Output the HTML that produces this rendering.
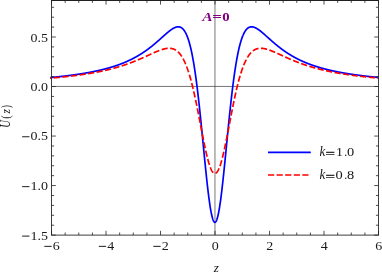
<!DOCTYPE html>
<html><head><meta charset="utf-8"><style>
html,body{margin:0;padding:0;background:#fff;}
svg{display:block;font-family:"Liberation Serif",serif;will-change:transform;}
</style></head><body>
<svg width="382" height="273" viewBox="0 0 382 273">
<rect width="382" height="273" fill="#fff"/>
<defs><clipPath id="c"><rect x="49.53" y="0.30" width="329.60" height="234.80"/></clipPath></defs>
<line x1="214.95" y1="0.30" x2="214.95" y2="235.10" stroke="#8e8e8e" stroke-width="1.2"/>
<line x1="51.53" y1="86.45" x2="378.53" y2="86.45" stroke="#3a3a3a" stroke-width="0.7"/>
<g clip-path="url(#c)" fill="none" stroke-linejoin="round">
<path d="M50.10 77.58 L50.23 77.57 L50.37 77.55 L50.51 77.54 L50.65 77.53 L50.78 77.51 L50.92 77.50 L51.06 77.49 L51.19 77.48 L51.33 77.46 L51.47 77.45 L51.60 77.44 L51.74 77.43 L51.88 77.41 L52.01 77.40 L52.15 77.39 L52.29 77.37 L52.43 77.36 L52.56 77.35 L52.70 77.33 L52.84 77.32 L52.97 77.31 L53.11 77.29 L53.25 77.28 L53.38 77.27 L53.52 77.26 L53.66 77.24 L53.79 77.23 L53.93 77.22 L54.07 77.20 L54.21 77.19 L54.34 77.18 L54.48 77.16 L54.62 77.15 L54.75 77.13 L54.89 77.12 L55.03 77.11 L55.16 77.09 L55.30 77.08 L55.44 77.07 L55.57 77.05 L55.71 77.04 L55.85 77.03 L55.98 77.01 L56.12 77.00 L56.26 76.98 L56.40 76.97 L56.53 76.96 L56.67 76.94 L56.81 76.93 L56.94 76.91 L57.08 76.90 L57.22 76.89 L57.35 76.87 L57.49 76.86 L57.63 76.84 L57.76 76.83 L57.90 76.81 L58.04 76.80 L58.18 76.79 L58.31 76.77 L58.45 76.76 L58.59 76.74 L58.72 76.73 L58.86 76.71 L59.00 76.70 L59.13 76.68 L59.27 76.67 L59.41 76.66 L59.54 76.64 L59.68 76.63 L59.82 76.61 L59.96 76.60 L60.09 76.58 L60.23 76.57 L60.37 76.55 L60.50 76.54 L60.64 76.52 L60.78 76.51 L60.91 76.49 L61.05 76.48 L61.19 76.46 L61.32 76.45 L61.46 76.43 L61.60 76.42 L61.73 76.40 L61.87 76.39 L62.01 76.37 L62.15 76.36 L62.28 76.34 L62.42 76.32 L62.56 76.31 L62.69 76.29 L62.83 76.28 L62.97 76.26 L63.10 76.25 L63.24 76.23 L63.38 76.22 L63.51 76.20 L63.65 76.18 L63.79 76.17 L63.93 76.15 L64.06 76.14 L64.20 76.12 L64.34 76.10 L64.47 76.09 L64.61 76.07 L64.75 76.06 L64.88 76.04 L65.02 76.02 L65.16 76.01 L65.29 75.99 L65.43 75.98 L65.57 75.96 L65.71 75.94 L65.84 75.93 L65.98 75.91 L66.12 75.89 L66.25 75.88 L66.39 75.86 L66.53 75.84 L66.66 75.83 L66.80 75.81 L66.94 75.79 L67.07 75.78 L67.21 75.76 L67.35 75.74 L67.48 75.73 L67.62 75.71 L67.76 75.69 L67.90 75.68 L68.03 75.66 L68.17 75.64 L68.31 75.62 L68.44 75.61 L68.58 75.59 L68.72 75.57 L68.85 75.56 L68.99 75.54 L69.13 75.52 L69.26 75.50 L69.40 75.49 L69.54 75.47 L69.68 75.45 L69.81 75.43 L69.95 75.42 L70.09 75.40 L70.22 75.38 L70.36 75.36 L70.50 75.35 L70.63 75.33 L70.77 75.31 L70.91 75.29 L71.04 75.27 L71.18 75.26 L71.32 75.24 L71.45 75.22 L71.59 75.20 L71.73 75.18 L71.87 75.16 L72.00 75.15 L72.14 75.13 L72.28 75.11 L72.41 75.09 L72.55 75.07 L72.69 75.05 L72.82 75.04 L72.96 75.02 L73.10 75.00 L73.23 74.98 L73.37 74.96 L73.51 74.94 L73.65 74.92 L73.78 74.90 L73.92 74.89 L74.06 74.87 L74.19 74.85 L74.33 74.83 L74.47 74.81 L74.60 74.79 L74.74 74.77 L74.88 74.75 L75.01 74.73 L75.15 74.71 L75.29 74.69 L75.43 74.67 L75.56 74.65 L75.70 74.63 L75.84 74.61 L75.97 74.60 L76.11 74.58 L76.25 74.56 L76.38 74.54 L76.52 74.52 L76.66 74.50 L76.79 74.48 L76.93 74.46 L77.07 74.44 L77.20 74.42 L77.34 74.40 L77.48 74.38 L77.62 74.35 L77.75 74.33 L77.89 74.31 L78.03 74.29 L78.16 74.27 L78.30 74.25 L78.44 74.23 L78.57 74.21 L78.71 74.19 L78.85 74.17 L78.98 74.15 L79.12 74.13 L79.26 74.11 L79.40 74.09 L79.53 74.07 L79.67 74.04 L79.81 74.02 L79.94 74.00 L80.08 73.98 L80.22 73.96 L80.35 73.94 L80.49 73.92 L80.63 73.89 L80.76 73.87 L80.90 73.85 L81.04 73.83 L81.18 73.81 L81.31 73.79 L81.45 73.76 L81.59 73.74 L81.72 73.72 L81.86 73.70 L82.00 73.68 L82.13 73.65 L82.27 73.63 L82.41 73.61 L82.54 73.59 L82.68 73.57 L82.82 73.54 L82.95 73.52 L83.09 73.50 L83.23 73.47 L83.37 73.45 L83.50 73.43 L83.64 73.41 L83.78 73.38 L83.91 73.36 L84.05 73.34 L84.19 73.31 L84.32 73.29 L84.46 73.27 L84.60 73.25 L84.73 73.22 L84.87 73.20 L85.01 73.18 L85.15 73.15 L85.28 73.13 L85.42 73.10 L85.56 73.08 L85.69 73.06 L85.83 73.03 L85.97 73.01 L86.10 72.99 L86.24 72.96 L86.38 72.94 L86.51 72.91 L86.65 72.89 L86.79 72.87 L86.93 72.84 L87.06 72.82 L87.20 72.79 L87.34 72.77 L87.47 72.74 L87.61 72.72 L87.75 72.69 L87.88 72.67 L88.02 72.64 L88.16 72.62 L88.29 72.59 L88.43 72.57 L88.57 72.54 L88.70 72.52 L88.84 72.49 L88.98 72.47 L89.12 72.44 L89.25 72.42 L89.39 72.39 L89.53 72.37 L89.66 72.34 L89.80 72.31 L89.94 72.29 L90.07 72.26 L90.21 72.24 L90.35 72.21 L90.48 72.18 L90.62 72.16 L90.76 72.13 L90.90 72.11 L91.03 72.08 L91.17 72.05 L91.31 72.03 L91.44 72.00 L91.58 71.97 L91.72 71.95 L91.85 71.92 L91.99 71.89 L92.13 71.87 L92.26 71.84 L92.40 71.81 L92.54 71.78 L92.68 71.76 L92.81 71.73 L92.95 71.70 L93.09 71.67 L93.22 71.65 L93.36 71.62 L93.50 71.59 L93.63 71.56 L93.77 71.53 L93.91 71.51 L94.04 71.48 L94.18 71.45 L94.32 71.42 L94.45 71.39 L94.59 71.37 L94.73 71.34 L94.87 71.31 L95.00 71.28 L95.14 71.25 L95.28 71.22 L95.41 71.19 L95.55 71.16 L95.69 71.14 L95.82 71.11 L95.96 71.08 L96.10 71.05 L96.23 71.02 L96.37 70.99 L96.51 70.96 L96.65 70.93 L96.78 70.90 L96.92 70.87 L97.06 70.84 L97.19 70.81 L97.33 70.78 L97.47 70.75 L97.60 70.72 L97.74 70.69 L97.88 70.66 L98.01 70.63 L98.15 70.60 L98.29 70.57 L98.43 70.53 L98.56 70.50 L98.70 70.47 L98.84 70.44 L98.97 70.41 L99.11 70.38 L99.25 70.35 L99.38 70.32 L99.52 70.28 L99.66 70.25 L99.79 70.22 L99.93 70.19 L100.07 70.16 L100.20 70.13 L100.34 70.09 L100.48 70.06 L100.62 70.03 L100.75 70.00 L100.89 69.96 L101.03 69.93 L101.16 69.90 L101.30 69.87 L101.44 69.83 L101.57 69.80 L101.71 69.77 L101.85 69.73 L101.98 69.70 L102.12 69.67 L102.26 69.63 L102.40 69.60 L102.53 69.57 L102.67 69.53 L102.81 69.50 L102.94 69.46 L103.08 69.43 L103.22 69.40 L103.35 69.36 L103.49 69.33 L103.63 69.29 L103.76 69.26 L103.90 69.22 L104.04 69.19 L104.17 69.15 L104.31 69.12 L104.45 69.08 L104.59 69.05 L104.72 69.01 L104.86 68.98 L105.00 68.94 L105.13 68.90 L105.27 68.87 L105.41 68.83 L105.54 68.80 L105.68 68.76 L105.82 68.72 L105.95 68.69 L106.09 68.65 L106.23 68.61 L106.37 68.58 L106.50 68.54 L106.64 68.50 L106.78 68.47 L106.91 68.43 L107.05 68.39 L107.19 68.35 L107.32 68.32 L107.46 68.28 L107.60 68.24 L107.73 68.20 L107.87 68.17 L108.01 68.13 L108.15 68.09 L108.28 68.05 L108.42 68.01 L108.56 67.97 L108.69 67.93 L108.83 67.90 L108.97 67.86 L109.10 67.82 L109.24 67.78 L109.38 67.74 L109.51 67.70 L109.65 67.66 L109.79 67.62 L109.92 67.58 L110.06 67.54 L110.20 67.50 L110.34 67.46 L110.47 67.42 L110.61 67.38 L110.75 67.34 L110.88 67.30 L111.02 67.26 L111.16 67.21 L111.29 67.17 L111.43 67.13 L111.57 67.09 L111.70 67.05 L111.84 67.01 L111.98 66.96 L112.12 66.92 L112.25 66.88 L112.39 66.84 L112.53 66.80 L112.66 66.75 L112.80 66.71 L112.94 66.67 L113.07 66.62 L113.21 66.58 L113.35 66.54 L113.48 66.49 L113.62 66.45 L113.76 66.41 L113.90 66.36 L114.03 66.32 L114.17 66.28 L114.31 66.23 L114.44 66.19 L114.58 66.14 L114.72 66.10 L114.85 66.05 L114.99 66.01 L115.13 65.96 L115.26 65.92 L115.40 65.87 L115.54 65.83 L115.67 65.78 L115.81 65.73 L115.95 65.69 L116.09 65.64 L116.22 65.60 L116.36 65.55 L116.50 65.50 L116.63 65.46 L116.77 65.41 L116.91 65.36 L117.04 65.31 L117.18 65.27 L117.32 65.22 L117.45 65.17 L117.59 65.12 L117.73 65.07 L117.87 65.03 L118.00 64.98 L118.14 64.93 L118.28 64.88 L118.41 64.83 L118.55 64.78 L118.69 64.73 L118.82 64.68 L118.96 64.63 L119.10 64.58 L119.23 64.53 L119.37 64.48 L119.51 64.43 L119.65 64.38 L119.78 64.33 L119.92 64.28 L120.06 64.23 L120.19 64.18 L120.33 64.13 L120.47 64.08 L120.60 64.02 L120.74 63.97 L120.88 63.92 L121.01 63.87 L121.15 63.82 L121.29 63.76 L121.42 63.71 L121.56 63.66 L121.70 63.60 L121.84 63.55 L121.97 63.50 L122.11 63.44 L122.25 63.39 L122.38 63.34 L122.52 63.28 L122.66 63.23 L122.79 63.17 L122.93 63.12 L123.07 63.06 L123.20 63.01 L123.34 62.95 L123.48 62.90 L123.62 62.84 L123.75 62.79 L123.89 62.73 L124.03 62.67 L124.16 62.62 L124.30 62.56 L124.44 62.50 L124.57 62.45 L124.71 62.39 L124.85 62.33 L124.98 62.27 L125.12 62.22 L125.26 62.16 L125.40 62.10 L125.53 62.04 L125.67 61.98 L125.81 61.92 L125.94 61.86 L126.08 61.80 L126.22 61.75 L126.35 61.69 L126.49 61.63 L126.63 61.57 L126.76 61.50 L126.90 61.44 L127.04 61.38 L127.17 61.32 L127.31 61.26 L127.45 61.20 L127.59 61.14 L127.72 61.08 L127.86 61.01 L128.00 60.95 L128.13 60.89 L128.27 60.83 L128.41 60.76 L128.54 60.70 L128.68 60.64 L128.82 60.57 L128.95 60.51 L129.09 60.45 L129.23 60.38 L129.37 60.32 L129.50 60.25 L129.64 60.19 L129.78 60.12 L129.91 60.06 L130.05 59.99 L130.19 59.93 L130.32 59.86 L130.46 59.79 L130.60 59.73 L130.73 59.66 L130.87 59.59 L131.01 59.53 L131.14 59.46 L131.28 59.39 L131.42 59.32 L131.56 59.25 L131.69 59.19 L131.83 59.12 L131.97 59.05 L132.10 58.98 L132.24 58.91 L132.38 58.84 L132.51 58.77 L132.65 58.70 L132.79 58.63 L132.92 58.56 L133.06 58.49 L133.20 58.42 L133.34 58.35 L133.47 58.27 L133.61 58.20 L133.75 58.13 L133.88 58.06 L134.02 57.99 L134.16 57.91 L134.29 57.84 L134.43 57.77 L134.57 57.69 L134.70 57.62 L134.84 57.55 L134.98 57.47 L135.12 57.40 L135.25 57.32 L135.39 57.25 L135.53 57.17 L135.66 57.10 L135.80 57.02 L135.94 56.94 L136.07 56.87 L136.21 56.79 L136.35 56.71 L136.48 56.64 L136.62 56.56 L136.76 56.48 L136.89 56.40 L137.03 56.32 L137.17 56.25 L137.31 56.17 L137.44 56.09 L137.58 56.01 L137.72 55.93 L137.85 55.85 L137.99 55.77 L138.13 55.69 L138.26 55.61 L138.40 55.53 L138.54 55.45 L138.67 55.36 L138.81 55.28 L138.95 55.20 L139.09 55.12 L139.22 55.04 L139.36 54.95 L139.50 54.87 L139.63 54.79 L139.77 54.70 L139.91 54.62 L140.04 54.53 L140.18 54.45 L140.32 54.36 L140.45 54.28 L140.59 54.19 L140.73 54.11 L140.87 54.02 L141.00 53.94 L141.14 53.85 L141.28 53.76 L141.41 53.68 L141.55 53.59 L141.69 53.50 L141.82 53.41 L141.96 53.32 L142.10 53.24 L142.23 53.15 L142.37 53.06 L142.51 52.97 L142.64 52.88 L142.78 52.79 L142.92 52.70 L143.06 52.61 L143.19 52.52 L143.33 52.43 L143.47 52.33 L143.60 52.24 L143.74 52.15 L143.88 52.06 L144.01 51.96 L144.15 51.87 L144.29 51.78 L144.42 51.68 L144.56 51.59 L144.70 51.50 L144.84 51.40 L144.97 51.31 L145.11 51.21 L145.25 51.12 L145.38 51.02 L145.52 50.93 L145.66 50.83 L145.79 50.73 L145.93 50.64 L146.07 50.54 L146.20 50.44 L146.34 50.34 L146.48 50.25 L146.62 50.15 L146.75 50.05 L146.89 49.95 L147.03 49.85 L147.16 49.75 L147.30 49.65 L147.44 49.55 L147.57 49.45 L147.71 49.35 L147.85 49.25 L147.98 49.15 L148.12 49.05 L148.26 48.94 L148.39 48.84 L148.53 48.74 L148.67 48.64 L148.81 48.53 L148.94 48.43 L149.08 48.33 L149.22 48.22 L149.35 48.12 L149.49 48.01 L149.63 47.91 L149.76 47.80 L149.90 47.70 L150.04 47.59 L150.17 47.49 L150.31 47.38 L150.45 47.27 L150.59 47.17 L150.72 47.06 L150.86 46.95 L151.00 46.85 L151.13 46.74 L151.27 46.63 L151.41 46.52 L151.54 46.41 L151.68 46.30 L151.82 46.19 L151.95 46.08 L152.09 45.97 L152.23 45.86 L152.37 45.75 L152.50 45.64 L152.64 45.53 L152.78 45.42 L152.91 45.31 L153.05 45.20 L153.19 45.08 L153.32 44.97 L153.46 44.86 L153.60 44.75 L153.73 44.63 L153.87 44.52 L154.01 44.41 L154.14 44.29 L154.28 44.18 L154.42 44.06 L154.56 43.95 L154.69 43.83 L154.83 43.72 L154.97 43.60 L155.10 43.49 L155.24 43.37 L155.38 43.25 L155.51 43.14 L155.65 43.02 L155.79 42.90 L155.92 42.79 L156.06 42.67 L156.20 42.55 L156.34 42.44 L156.47 42.32 L156.61 42.20 L156.75 42.08 L156.88 41.96 L157.02 41.84 L157.16 41.72 L157.29 41.61 L157.43 41.49 L157.57 41.37 L157.70 41.25 L157.84 41.13 L157.98 41.01 L158.12 40.89 L158.25 40.77 L158.39 40.65 L158.53 40.53 L158.66 40.40 L158.80 40.28 L158.94 40.16 L159.07 40.04 L159.21 39.92 L159.35 39.80 L159.48 39.68 L159.62 39.55 L159.76 39.43 L159.89 39.31 L160.03 39.19 L160.17 39.07 L160.31 38.94 L160.44 38.82 L160.58 38.70 L160.72 38.58 L160.85 38.45 L160.99 38.33 L161.13 38.21 L161.26 38.09 L161.40 37.96 L161.54 37.84 L161.67 37.72 L161.81 37.59 L161.95 37.47 L162.09 37.35 L162.22 37.23 L162.36 37.10 L162.50 36.98 L162.63 36.86 L162.77 36.73 L162.91 36.61 L163.04 36.49 L163.18 36.37 L163.32 36.24 L163.45 36.12 L163.59 36.00 L163.73 35.88 L163.86 35.75 L164.00 35.63 L164.14 35.51 L164.28 35.39 L164.41 35.27 L164.55 35.14 L164.69 35.02 L164.82 34.90 L164.96 34.78 L165.10 34.66 L165.23 34.54 L165.37 34.42 L165.51 34.30 L165.64 34.18 L165.78 34.06 L165.92 33.94 L166.06 33.82 L166.19 33.70 L166.33 33.58 L166.47 33.47 L166.60 33.35 L166.74 33.23 L166.88 33.11 L167.01 33.00 L167.15 32.88 L167.29 32.76 L167.42 32.65 L167.56 32.53 L167.70 32.42 L167.84 32.30 L167.97 32.19 L168.11 32.08 L168.25 31.97 L168.38 31.85 L168.52 31.74 L168.66 31.63 L168.79 31.52 L168.93 31.41 L169.07 31.30 L169.20 31.19 L169.34 31.09 L169.48 30.98 L169.61 30.87 L169.75 30.77 L169.89 30.66 L170.03 30.56 L170.16 30.45 L170.30 30.35 L170.44 30.25 L170.57 30.15 L170.71 30.05 L170.85 29.95 L170.98 29.85 L171.12 29.76 L171.26 29.66 L171.39 29.57 L171.53 29.47 L171.67 29.38 L171.81 29.29 L171.94 29.20 L172.08 29.11 L172.22 29.02 L172.35 28.93 L172.49 28.85 L172.63 28.76 L172.76 28.68 L172.90 28.60 L173.04 28.52 L173.17 28.44 L173.31 28.36 L173.45 28.28 L173.59 28.21 L173.72 28.13 L173.86 28.06 L174.00 27.99 L174.13 27.92 L174.27 27.86 L174.41 27.79 L174.54 27.73 L174.68 27.66 L174.82 27.60 L174.95 27.55 L175.09 27.49 L175.23 27.44 L175.36 27.38 L175.50 27.33 L175.64 27.28 L175.78 27.24 L175.91 27.19 L176.05 27.15 L176.19 27.11 L176.32 27.07 L176.46 27.04 L176.60 27.01 L176.73 26.98 L176.87 26.95 L177.01 26.92 L177.14 26.90 L177.28 26.88 L177.42 26.86 L177.56 26.84 L177.69 26.83 L177.83 26.82 L177.97 26.82 L178.10 26.81 L178.24 26.81 L178.38 26.81 L178.51 26.82 L178.65 26.82 L178.79 26.84 L178.92 26.85 L179.06 26.87 L179.20 26.89 L179.34 26.91 L179.47 26.94 L179.61 26.97 L179.75 27.01 L179.88 27.04 L180.02 27.09 L180.16 27.13 L180.29 27.18 L180.43 27.24 L180.57 27.29 L180.70 27.35 L180.84 27.42 L180.98 27.49 L181.11 27.56 L181.25 27.64 L181.39 27.72 L181.53 27.81 L181.66 27.90 L181.80 28.00 L181.94 28.10 L182.07 28.21 L182.21 28.32 L182.35 28.43 L182.48 28.55 L182.62 28.68 L182.76 28.81 L182.89 28.94 L183.03 29.08 L183.17 29.23 L183.31 29.38 L183.44 29.53 L183.58 29.70 L183.72 29.86 L183.85 30.04 L183.99 30.22 L184.13 30.40 L184.26 30.59 L184.40 30.79 L184.54 30.99 L184.67 31.20 L184.81 31.42 L184.95 31.64 L185.09 31.87 L185.22 32.11 L185.36 32.35 L185.50 32.60 L185.63 32.85 L185.77 33.12 L185.91 33.39 L186.04 33.66 L186.18 33.95 L186.32 34.24 L186.45 34.54 L186.59 34.84 L186.73 35.16 L186.86 35.48 L187.00 35.81 L187.14 36.14 L187.28 36.49 L187.41 36.84 L187.55 37.20 L187.69 37.57 L187.82 37.95 L187.96 38.34 L188.10 38.73 L188.23 39.14 L188.37 39.55 L188.51 39.97 L188.64 40.40 L188.78 40.84 L188.92 41.28 L189.06 41.74 L189.19 42.21 L189.33 42.68 L189.47 43.17 L189.60 43.66 L189.74 44.16 L189.88 44.68 L190.01 45.20 L190.15 45.73 L190.29 46.27 L190.42 46.83 L190.56 47.39 L190.70 47.96 L190.84 48.55 L190.97 49.14 L191.11 49.74 L191.25 50.36 L191.38 50.98 L191.52 51.62 L191.66 52.26 L191.79 52.92 L191.93 53.59 L192.07 54.27 L192.20 54.96 L192.34 55.66 L192.48 56.37 L192.61 57.09 L192.75 57.82 L192.89 58.57 L193.03 59.33 L193.16 60.09 L193.30 60.87 L193.44 61.66 L193.57 62.46 L193.71 63.28 L193.85 64.10 L193.98 64.94 L194.12 65.78 L194.26 66.64 L194.39 67.51 L194.53 68.39 L194.67 69.29 L194.81 70.19 L194.94 71.11 L195.08 72.04 L195.22 72.98 L195.35 73.93 L195.49 74.89 L195.63 75.86 L195.76 76.85 L195.90 77.85 L196.04 78.86 L196.17 79.88 L196.31 80.91 L196.45 81.95 L196.58 83.00 L196.72 84.07 L196.86 85.14 L197.00 86.23 L197.13 87.33 L197.27 88.43 L197.41 89.55 L197.54 90.68 L197.68 91.82 L197.82 92.97 L197.95 94.13 L198.09 95.30 L198.23 96.48 L198.36 97.67 L198.50 98.88 L198.64 100.09 L198.78 101.30 L198.91 102.53 L199.05 103.77 L199.19 105.02 L199.32 106.27 L199.46 107.54 L199.60 108.81 L199.73 110.09 L199.87 111.38 L200.01 112.67 L200.14 113.98 L200.28 115.29 L200.42 116.61 L200.56 117.93 L200.69 119.26 L200.83 120.60 L200.97 121.94 L201.10 123.29 L201.24 124.65 L201.38 126.01 L201.51 127.37 L201.65 128.74 L201.79 130.11 L201.92 131.49 L202.06 132.87 L202.20 134.26 L202.33 135.64 L202.47 137.03 L202.61 138.42 L202.75 139.82 L202.88 141.21 L203.02 142.61 L203.16 144.01 L203.29 145.40 L203.43 146.80 L203.57 148.20 L203.70 149.60 L203.84 150.99 L203.98 152.39 L204.11 153.78 L204.25 155.17 L204.39 156.55 L204.53 157.94 L204.66 159.32 L204.80 160.69 L204.94 162.07 L205.07 163.43 L205.21 164.79 L205.35 166.15 L205.48 167.50 L205.62 168.84 L205.76 170.18 L205.89 171.51 L206.03 172.83 L206.17 174.14 L206.31 175.44 L206.44 176.74 L206.58 178.02 L206.72 179.30 L206.85 180.56 L206.99 181.81 L207.13 183.05 L207.26 184.28 L207.40 185.50 L207.54 186.70 L207.67 187.89 L207.81 189.07 L207.95 190.23 L208.08 191.38 L208.22 192.51 L208.36 193.63 L208.50 194.73 L208.63 195.82 L208.77 196.88 L208.91 197.94 L209.04 198.97 L209.18 199.99 L209.32 200.98 L209.45 201.96 L209.59 202.92 L209.73 203.87 L209.86 204.79 L210.00 205.69 L210.14 206.57 L210.28 207.43 L210.41 208.27 L210.55 209.08 L210.69 209.88 L210.82 210.65 L210.96 211.40 L211.10 212.13 L211.23 212.83 L211.37 213.52 L211.51 214.17 L211.64 214.81 L211.78 215.42 L211.92 216.00 L212.06 216.56 L212.19 217.10 L212.33 217.61 L212.47 218.10 L212.60 218.56 L212.74 218.99 L212.88 219.40 L213.01 219.78 L213.15 220.14 L213.29 220.47 L213.42 220.77 L213.56 221.05 L213.70 221.30 L213.83 221.53 L213.97 221.72 L214.11 221.89 L214.25 222.04 L214.38 222.15 L214.52 222.24 L214.66 222.31 L214.79 222.34 L214.93 222.35 L215.07 222.33 L215.20 222.28 L215.34 222.21 L215.48 222.11 L215.61 221.98 L215.75 221.82 L215.89 221.64 L216.03 221.43 L216.16 221.20 L216.30 220.93 L216.44 220.64 L216.57 220.33 L216.71 219.99 L216.85 219.62 L216.98 219.22 L217.12 218.80 L217.26 218.36 L217.39 217.89 L217.53 217.39 L217.67 216.87 L217.81 216.32 L217.94 215.75 L218.08 215.15 L218.22 214.53 L218.35 213.89 L218.49 213.22 L218.63 212.53 L218.76 211.81 L218.90 211.08 L219.04 210.31 L219.17 209.53 L219.31 208.73 L219.45 207.90 L219.58 207.05 L219.72 206.18 L219.86 205.29 L220.00 204.38 L220.13 203.45 L220.27 202.51 L220.41 201.54 L220.54 200.55 L220.68 199.54 L220.82 198.52 L220.95 197.48 L221.09 196.42 L221.23 195.34 L221.36 194.25 L221.50 193.14 L221.64 192.02 L221.78 190.88 L221.91 189.72 L222.05 188.55 L222.19 187.37 L222.32 186.17 L222.46 184.97 L222.60 183.74 L222.73 182.51 L222.87 181.26 L223.01 180.01 L223.14 178.74 L223.28 177.46 L223.42 176.17 L223.55 174.87 L223.69 173.57 L223.83 172.25 L223.97 170.93 L224.10 169.59 L224.24 168.25 L224.38 166.91 L224.51 165.56 L224.65 164.20 L224.79 162.83 L224.92 161.46 L225.06 160.09 L225.20 158.71 L225.33 157.33 L225.47 155.95 L225.61 154.56 L225.75 153.17 L225.88 151.77 L226.02 150.38 L226.16 148.98 L226.29 147.59 L226.43 146.19 L226.57 144.79 L226.70 143.39 L226.84 142.00 L226.98 140.60 L227.11 139.21 L227.25 137.81 L227.39 136.42 L227.53 135.03 L227.66 133.65 L227.80 132.26 L227.94 130.89 L228.07 129.51 L228.21 128.14 L228.35 126.77 L228.48 125.41 L228.62 124.05 L228.76 122.70 L228.89 121.35 L229.03 120.01 L229.17 118.68 L229.30 117.35 L229.44 116.03 L229.58 114.71 L229.72 113.40 L229.85 112.10 L229.99 110.81 L230.13 109.53 L230.26 108.25 L230.40 106.98 L230.54 105.72 L230.67 104.47 L230.81 103.23 L230.95 101.99 L231.08 100.77 L231.22 99.55 L231.36 98.35 L231.50 97.15 L231.63 95.96 L231.77 94.79 L231.91 93.62 L232.04 92.47 L232.18 91.32 L232.32 90.18 L232.45 89.06 L232.59 87.95 L232.73 86.84 L232.86 85.75 L233.00 84.67 L233.14 83.60 L233.28 82.54 L233.41 81.49 L233.55 80.45 L233.69 79.43 L233.82 78.41 L233.96 77.41 L234.10 76.42 L234.23 75.44 L234.37 74.47 L234.51 73.51 L234.64 72.56 L234.78 71.63 L234.92 70.71 L235.05 69.79 L235.19 68.89 L235.33 68.01 L235.47 67.13 L235.60 66.26 L235.74 65.41 L235.88 64.57 L236.01 63.74 L236.15 62.92 L236.29 62.11 L236.42 61.31 L236.56 60.53 L236.70 59.75 L236.83 58.99 L236.97 58.24 L237.11 57.50 L237.25 56.77 L237.38 56.05 L237.52 55.35 L237.66 54.65 L237.79 53.97 L237.93 53.29 L238.07 52.63 L238.20 51.98 L238.34 51.34 L238.48 50.71 L238.61 50.09 L238.75 49.48 L238.89 48.88 L239.03 48.29 L239.16 47.71 L239.30 47.14 L239.44 46.58 L239.57 46.04 L239.71 45.50 L239.85 44.97 L239.98 44.45 L240.12 43.94 L240.26 43.44 L240.39 42.95 L240.53 42.47 L240.67 42.00 L240.80 41.54 L240.94 41.09 L241.08 40.64 L241.22 40.21 L241.35 39.78 L241.49 39.37 L241.63 38.96 L241.76 38.56 L241.90 38.17 L242.04 37.78 L242.17 37.41 L242.31 37.04 L242.45 36.69 L242.58 36.34 L242.72 36.00 L242.86 35.66 L243.00 35.34 L243.13 35.02 L243.27 34.71 L243.41 34.41 L243.54 34.11 L243.68 33.82 L243.82 33.54 L243.95 33.27 L244.09 33.00 L244.23 32.74 L244.36 32.49 L244.50 32.24 L244.64 32.00 L244.78 31.77 L244.91 31.54 L245.05 31.32 L245.19 31.11 L245.32 30.90 L245.46 30.70 L245.60 30.51 L245.73 30.32 L245.87 30.14 L246.01 29.96 L246.14 29.79 L246.28 29.62 L246.42 29.46 L246.55 29.31 L246.69 29.16 L246.83 29.02 L246.97 28.88 L247.10 28.75 L247.24 28.62 L247.38 28.50 L247.51 28.38 L247.65 28.27 L247.79 28.16 L247.92 28.06 L248.06 27.96 L248.20 27.86 L248.33 27.77 L248.47 27.69 L248.61 27.61 L248.75 27.53 L248.88 27.46 L249.02 27.39 L249.16 27.33 L249.29 27.27 L249.43 27.21 L249.57 27.16 L249.70 27.11 L249.84 27.07 L249.98 27.03 L250.11 26.99 L250.25 26.96 L250.39 26.93 L250.53 26.90 L250.66 26.88 L250.80 26.86 L250.94 26.84 L251.07 26.83 L251.21 26.82 L251.35 26.81 L251.48 26.81 L251.62 26.81 L251.76 26.81 L251.89 26.82 L252.03 26.83 L252.17 26.84 L252.30 26.85 L252.44 26.87 L252.58 26.89 L252.72 26.91 L252.85 26.93 L252.99 26.96 L253.13 26.99 L253.26 27.02 L253.40 27.05 L253.54 27.09 L253.67 27.13 L253.81 27.17 L253.95 27.21 L254.08 27.26 L254.22 27.31 L254.36 27.35 L254.50 27.41 L254.63 27.46 L254.77 27.51 L254.91 27.57 L255.04 27.63 L255.18 27.69 L255.32 27.75 L255.45 27.82 L255.59 27.88 L255.73 27.95 L255.86 28.02 L256.00 28.09 L256.14 28.17 L256.27 28.24 L256.41 28.31 L256.55 28.39 L256.69 28.47 L256.82 28.55 L256.96 28.63 L257.10 28.71 L257.23 28.80 L257.37 28.88 L257.51 28.97 L257.64 29.06 L257.78 29.15 L257.92 29.24 L258.05 29.33 L258.19 29.42 L258.33 29.51 L258.47 29.61 L258.60 29.70 L258.74 29.80 L258.88 29.90 L259.01 29.99 L259.15 30.09 L259.29 30.19 L259.42 30.30 L259.56 30.40 L259.70 30.50 L259.83 30.60 L259.97 30.71 L260.11 30.81 L260.25 30.92 L260.38 31.03 L260.52 31.13 L260.66 31.24 L260.79 31.35 L260.93 31.46 L261.07 31.57 L261.20 31.68 L261.34 31.79 L261.48 31.90 L261.61 32.01 L261.75 32.13 L261.89 32.24 L262.02 32.35 L262.16 32.47 L262.30 32.58 L262.44 32.70 L262.57 32.81 L262.71 32.93 L262.85 33.05 L262.98 33.16 L263.12 33.28 L263.26 33.40 L263.39 33.52 L263.53 33.64 L263.67 33.75 L263.80 33.87 L263.94 33.99 L264.08 34.11 L264.22 34.23 L264.35 34.35 L264.49 34.47 L264.63 34.59 L264.76 34.71 L264.90 34.83 L265.04 34.96 L265.17 35.08 L265.31 35.20 L265.45 35.32 L265.58 35.44 L265.72 35.56 L265.86 35.69 L266.00 35.81 L266.13 35.93 L266.27 36.05 L266.41 36.18 L266.54 36.30 L266.68 36.42 L266.82 36.54 L266.95 36.67 L267.09 36.79 L267.23 36.91 L267.36 37.03 L267.50 37.16 L267.64 37.28 L267.77 37.40 L267.91 37.53 L268.05 37.65 L268.19 37.77 L268.32 37.89 L268.46 38.02 L268.60 38.14 L268.73 38.26 L268.87 38.39 L269.01 38.51 L269.14 38.63 L269.28 38.75 L269.42 38.88 L269.55 39.00 L269.69 39.12 L269.83 39.24 L269.97 39.36 L270.10 39.49 L270.24 39.61 L270.38 39.73 L270.51 39.85 L270.65 39.97 L270.79 40.09 L270.92 40.22 L271.06 40.34 L271.20 40.46 L271.33 40.58 L271.47 40.70 L271.61 40.82 L271.75 40.94 L271.88 41.06 L272.02 41.18 L272.16 41.30 L272.29 41.42 L272.43 41.54 L272.57 41.66 L272.70 41.78 L272.84 41.90 L272.98 42.01 L273.11 42.13 L273.25 42.25 L273.39 42.37 L273.52 42.49 L273.66 42.60 L273.80 42.72 L273.94 42.84 L274.07 42.96 L274.21 43.07 L274.35 43.19 L274.48 43.31 L274.62 43.42 L274.76 43.54 L274.89 43.65 L275.03 43.77 L275.17 43.88 L275.30 44.00 L275.44 44.11 L275.58 44.23 L275.72 44.34 L275.85 44.46 L275.99 44.57 L276.13 44.68 L276.26 44.80 L276.40 44.91 L276.54 45.02 L276.67 45.13 L276.81 45.24 L276.95 45.36 L277.08 45.47 L277.22 45.58 L277.36 45.69 L277.50 45.80 L277.63 45.91 L277.77 46.02 L277.91 46.13 L278.04 46.24 L278.18 46.35 L278.32 46.46 L278.45 46.57 L278.59 46.68 L278.73 46.78 L278.86 46.89 L279.00 47.00 L279.14 47.11 L279.27 47.21 L279.41 47.32 L279.55 47.43 L279.69 47.53 L279.82 47.64 L279.96 47.75 L280.10 47.85 L280.23 47.96 L280.37 48.06 L280.51 48.16 L280.64 48.27 L280.78 48.37 L280.92 48.48 L281.05 48.58 L281.19 48.68 L281.33 48.78 L281.47 48.89 L281.60 48.99 L281.74 49.09 L281.88 49.19 L282.01 49.29 L282.15 49.39 L282.29 49.50 L282.42 49.60 L282.56 49.70 L282.70 49.79 L282.83 49.89 L282.97 49.99 L283.11 50.09 L283.25 50.19 L283.38 50.29 L283.52 50.39 L283.66 50.48 L283.79 50.58 L283.93 50.68 L284.07 50.78 L284.20 50.87 L284.34 50.97 L284.48 51.06 L284.61 51.16 L284.75 51.25 L284.89 51.35 L285.02 51.44 L285.16 51.54 L285.30 51.63 L285.44 51.73 L285.57 51.82 L285.71 51.91 L285.85 52.01 L285.98 52.10 L286.12 52.19 L286.26 52.28 L286.39 52.37 L286.53 52.47 L286.67 52.56 L286.80 52.65 L286.94 52.74 L287.08 52.83 L287.22 52.92 L287.35 53.01 L287.49 53.10 L287.63 53.19 L287.76 53.27 L287.90 53.36 L288.04 53.45 L288.17 53.54 L288.31 53.63 L288.45 53.71 L288.58 53.80 L288.72 53.89 L288.86 53.97 L288.99 54.06 L289.13 54.15 L289.27 54.23 L289.41 54.32 L289.54 54.40 L289.68 54.49 L289.82 54.57 L289.95 54.66 L290.09 54.74 L290.23 54.82 L290.36 54.91 L290.50 54.99 L290.64 55.07 L290.77 55.15 L290.91 55.24 L291.05 55.32 L291.19 55.40 L291.32 55.48 L291.46 55.56 L291.60 55.64 L291.73 55.72 L291.87 55.80 L292.01 55.88 L292.14 55.96 L292.28 56.04 L292.42 56.12 L292.55 56.20 L292.69 56.28 L292.83 56.36 L292.97 56.44 L293.10 56.52 L293.24 56.59 L293.38 56.67 L293.51 56.75 L293.65 56.82 L293.79 56.90 L293.92 56.98 L294.06 57.05 L294.20 57.13 L294.33 57.20 L294.47 57.28 L294.61 57.35 L294.74 57.43 L294.88 57.50 L295.02 57.58 L295.16 57.65 L295.29 57.73 L295.43 57.80 L295.57 57.87 L295.70 57.95 L295.84 58.02 L295.98 58.09 L296.11 58.16 L296.25 58.23 L296.39 58.31 L296.52 58.38 L296.66 58.45 L296.80 58.52 L296.94 58.59 L297.07 58.66 L297.21 58.73 L297.35 58.80 L297.48 58.87 L297.62 58.94 L297.76 59.01 L297.89 59.08 L298.03 59.15 L298.17 59.22 L298.30 59.28 L298.44 59.35 L298.58 59.42 L298.72 59.49 L298.85 59.56 L298.99 59.62 L299.13 59.69 L299.26 59.76 L299.40 59.82 L299.54 59.89 L299.67 59.95 L299.81 60.02 L299.95 60.09 L300.08 60.15 L300.22 60.22 L300.36 60.28 L300.49 60.35 L300.63 60.41 L300.77 60.47 L300.91 60.54 L301.04 60.60 L301.18 60.67 L301.32 60.73 L301.45 60.79 L301.59 60.85 L301.73 60.92 L301.86 60.98 L302.00 61.04 L302.14 61.10 L302.27 61.17 L302.41 61.23 L302.55 61.29 L302.69 61.35 L302.82 61.41 L302.96 61.47 L303.10 61.53 L303.23 61.59 L303.37 61.65 L303.51 61.71 L303.64 61.77 L303.78 61.83 L303.92 61.89 L304.05 61.95 L304.19 62.01 L304.33 62.07 L304.47 62.12 L304.60 62.18 L304.74 62.24 L304.88 62.30 L305.01 62.36 L305.15 62.41 L305.29 62.47 L305.42 62.53 L305.56 62.58 L305.70 62.64 L305.83 62.70 L305.97 62.75 L306.11 62.81 L306.24 62.87 L306.38 62.92 L306.52 62.98 L306.66 63.03 L306.79 63.09 L306.93 63.14 L307.07 63.20 L307.20 63.25 L307.34 63.31 L307.48 63.36 L307.61 63.41 L307.75 63.47 L307.89 63.52 L308.02 63.57 L308.16 63.63 L308.30 63.68 L308.44 63.73 L308.57 63.79 L308.71 63.84 L308.85 63.89 L308.98 63.94 L309.12 64.00 L309.26 64.05 L309.39 64.10 L309.53 64.15 L309.67 64.20 L309.80 64.25 L309.94 64.30 L310.08 64.35 L310.22 64.41 L310.35 64.46 L310.49 64.51 L310.63 64.56 L310.76 64.61 L310.90 64.66 L311.04 64.70 L311.17 64.75 L311.31 64.80 L311.45 64.85 L311.58 64.90 L311.72 64.95 L311.86 65.00 L311.99 65.05 L312.13 65.10 L312.27 65.14 L312.41 65.19 L312.54 65.24 L312.68 65.29 L312.82 65.33 L312.95 65.38 L313.09 65.43 L313.23 65.48 L313.36 65.52 L313.50 65.57 L313.64 65.62 L313.77 65.66 L313.91 65.71 L314.05 65.75 L314.19 65.80 L314.32 65.85 L314.46 65.89 L314.60 65.94 L314.73 65.98 L314.87 66.03 L315.01 66.07 L315.14 66.12 L315.28 66.16 L315.42 66.21 L315.55 66.25 L315.69 66.29 L315.83 66.34 L315.96 66.38 L316.10 66.43 L316.24 66.47 L316.38 66.51 L316.51 66.56 L316.65 66.60 L316.79 66.64 L316.92 66.69 L317.06 66.73 L317.20 66.77 L317.33 66.81 L317.47 66.86 L317.61 66.90 L317.74 66.94 L317.88 66.98 L318.02 67.03 L318.16 67.07 L318.29 67.11 L318.43 67.15 L318.57 67.19 L318.70 67.23 L318.84 67.27 L318.98 67.31 L319.11 67.35 L319.25 67.40 L319.39 67.44 L319.52 67.48 L319.66 67.52 L319.80 67.56 L319.94 67.60 L320.07 67.64 L320.21 67.68 L320.35 67.72 L320.48 67.76 L320.62 67.80 L320.76 67.83 L320.89 67.87 L321.03 67.91 L321.17 67.95 L321.30 67.99 L321.44 68.03 L321.58 68.07 L321.71 68.11 L321.85 68.14 L321.99 68.18 L322.13 68.22 L322.26 68.26 L322.40 68.30 L322.54 68.33 L322.67 68.37 L322.81 68.41 L322.95 68.45 L323.08 68.48 L323.22 68.52 L323.36 68.56 L323.49 68.59 L323.63 68.63 L323.77 68.67 L323.91 68.70 L324.04 68.74 L324.18 68.78 L324.32 68.81 L324.45 68.85 L324.59 68.88 L324.73 68.92 L324.86 68.96 L325.00 68.99 L325.14 69.03 L325.27 69.06 L325.41 69.10 L325.55 69.13 L325.69 69.17 L325.82 69.20 L325.96 69.24 L326.10 69.27 L326.23 69.31 L326.37 69.34 L326.51 69.38 L326.64 69.41 L326.78 69.44 L326.92 69.48 L327.05 69.51 L327.19 69.55 L327.33 69.58 L327.46 69.61 L327.60 69.65 L327.74 69.68 L327.88 69.71 L328.01 69.75 L328.15 69.78 L328.29 69.81 L328.42 69.85 L328.56 69.88 L328.70 69.91 L328.83 69.95 L328.97 69.98 L329.11 70.01 L329.24 70.04 L329.38 70.08 L329.52 70.11 L329.66 70.14 L329.79 70.17 L329.93 70.20 L330.07 70.24 L330.20 70.27 L330.34 70.30 L330.48 70.33 L330.61 70.36 L330.75 70.39 L330.89 70.42 L331.02 70.46 L331.16 70.49 L331.30 70.52 L331.44 70.55 L331.57 70.58 L331.71 70.61 L331.85 70.64 L331.98 70.67 L332.12 70.70 L332.26 70.73 L332.39 70.76 L332.53 70.79 L332.67 70.82 L332.80 70.85 L332.94 70.88 L333.08 70.91 L333.21 70.94 L333.35 70.97 L333.49 71.00 L333.63 71.03 L333.76 71.06 L333.90 71.09 L334.04 71.12 L334.17 71.15 L334.31 71.18 L334.45 71.21 L334.58 71.23 L334.72 71.26 L334.86 71.29 L334.99 71.32 L335.13 71.35 L335.27 71.38 L335.41 71.41 L335.54 71.43 L335.68 71.46 L335.82 71.49 L335.95 71.52 L336.09 71.55 L336.23 71.58 L336.36 71.60 L336.50 71.63 L336.64 71.66 L336.77 71.69 L336.91 71.71 L337.05 71.74 L337.19 71.77 L337.32 71.80 L337.46 71.82 L337.60 71.85 L337.73 71.88 L337.87 71.90 L338.01 71.93 L338.14 71.96 L338.28 71.98 L338.42 72.01 L338.55 72.04 L338.69 72.06 L338.83 72.09 L338.96 72.12 L339.10 72.14 L339.24 72.17 L339.38 72.20 L339.51 72.22 L339.65 72.25 L339.79 72.27 L339.92 72.30 L340.06 72.33 L340.20 72.35 L340.33 72.38 L340.47 72.40 L340.61 72.43 L340.74 72.45 L340.88 72.48 L341.02 72.50 L341.16 72.53 L341.29 72.55 L341.43 72.58 L341.57 72.60 L341.70 72.63 L341.84 72.65 L341.98 72.68 L342.11 72.70 L342.25 72.73 L342.39 72.75 L342.52 72.78 L342.66 72.80 L342.80 72.83 L342.94 72.85 L343.07 72.88 L343.21 72.90 L343.35 72.92 L343.48 72.95 L343.62 72.97 L343.76 73.00 L343.89 73.02 L344.03 73.04 L344.17 73.07 L344.30 73.09 L344.44 73.12 L344.58 73.14 L344.71 73.16 L344.85 73.19 L344.99 73.21 L345.13 73.23 L345.26 73.26 L345.40 73.28 L345.54 73.30 L345.67 73.33 L345.81 73.35 L345.95 73.37 L346.08 73.39 L346.22 73.42 L346.36 73.44 L346.49 73.46 L346.63 73.48 L346.77 73.51 L346.91 73.53 L347.04 73.55 L347.18 73.57 L347.32 73.60 L347.45 73.62 L347.59 73.64 L347.73 73.66 L347.86 73.69 L348.00 73.71 L348.14 73.73 L348.27 73.75 L348.41 73.77 L348.55 73.80 L348.68 73.82 L348.82 73.84 L348.96 73.86 L349.10 73.88 L349.23 73.90 L349.37 73.93 L349.51 73.95 L349.64 73.97 L349.78 73.99 L349.92 74.01 L350.05 74.03 L350.19 74.05 L350.33 74.07 L350.46 74.10 L350.60 74.12 L350.74 74.14 L350.88 74.16 L351.01 74.18 L351.15 74.20 L351.29 74.22 L351.42 74.24 L351.56 74.26 L351.70 74.28 L351.83 74.30 L351.97 74.32 L352.11 74.34 L352.24 74.36 L352.38 74.38 L352.52 74.40 L352.66 74.42 L352.79 74.44 L352.93 74.46 L353.07 74.48 L353.20 74.50 L353.34 74.52 L353.48 74.54 L353.61 74.56 L353.75 74.58 L353.89 74.60 L354.02 74.62 L354.16 74.64 L354.30 74.66 L354.43 74.68 L354.57 74.70 L354.71 74.72 L354.85 74.74 L354.98 74.76 L355.12 74.78 L355.26 74.80 L355.39 74.82 L355.53 74.84 L355.67 74.86 L355.80 74.87 L355.94 74.89 L356.08 74.91 L356.21 74.93 L356.35 74.95 L356.49 74.97 L356.63 74.99 L356.76 75.01 L356.90 75.03 L357.04 75.04 L357.17 75.06 L357.31 75.08 L357.45 75.10 L357.58 75.12 L357.72 75.14 L357.86 75.15 L357.99 75.17 L358.13 75.19 L358.27 75.21 L358.41 75.23 L358.54 75.25 L358.68 75.26 L358.82 75.28 L358.95 75.30 L359.09 75.32 L359.23 75.34 L359.36 75.35 L359.50 75.37 L359.64 75.39 L359.77 75.41 L359.91 75.42 L360.05 75.44 L360.18 75.46 L360.32 75.48 L360.46 75.49 L360.60 75.51 L360.73 75.53 L360.87 75.55 L361.01 75.56 L361.14 75.58 L361.28 75.60 L361.42 75.62 L361.55 75.63 L361.69 75.65 L361.83 75.67 L361.96 75.68 L362.10 75.70 L362.24 75.72 L362.38 75.73 L362.51 75.75 L362.65 75.77 L362.79 75.78 L362.92 75.80 L363.06 75.82 L363.20 75.83 L363.33 75.85 L363.47 75.87 L363.61 75.88 L363.74 75.90 L363.88 75.92 L364.02 75.93 L364.16 75.95 L364.29 75.97 L364.43 75.98 L364.57 76.00 L364.70 76.02 L364.84 76.03 L364.98 76.05 L365.11 76.06 L365.25 76.08 L365.39 76.10 L365.52 76.11 L365.66 76.13 L365.80 76.14 L365.93 76.16 L366.07 76.18 L366.21 76.19 L366.35 76.21 L366.48 76.22 L366.62 76.24 L366.76 76.25 L366.89 76.27 L367.03 76.28 L367.17 76.30 L367.30 76.32 L367.44 76.33 L367.58 76.35 L367.71 76.36 L367.85 76.38 L367.99 76.39 L368.13 76.41 L368.26 76.42 L368.40 76.44 L368.54 76.45 L368.67 76.47 L368.81 76.48 L368.95 76.50 L369.08 76.51 L369.22 76.53 L369.36 76.54 L369.49 76.56 L369.63 76.57 L369.77 76.59 L369.91 76.60 L370.04 76.62 L370.18 76.63 L370.32 76.65 L370.45 76.66 L370.59 76.68 L370.73 76.69 L370.86 76.71 L371.00 76.72 L371.14 76.73 L371.27 76.75 L371.41 76.76 L371.55 76.78 L371.68 76.79 L371.82 76.81 L371.96 76.82 L372.10 76.84 L372.23 76.85 L372.37 76.86 L372.51 76.88 L372.64 76.89 L372.78 76.91 L372.92 76.92 L373.05 76.93 L373.19 76.95 L373.33 76.96 L373.46 76.98 L373.60 76.99 L373.74 77.00 L373.88 77.02 L374.01 77.03 L374.15 77.05 L374.29 77.06 L374.42 77.07 L374.56 77.09 L374.70 77.10 L374.83 77.11 L374.97 77.13 L375.11 77.14 L375.24 77.15 L375.38 77.17 L375.52 77.18 L375.65 77.19 L375.79 77.21 L375.93 77.22 L376.07 77.23 L376.20 77.25 L376.34 77.26 L376.48 77.27 L376.61 77.29 L376.75 77.30 L376.89 77.31 L377.02 77.33 L377.16 77.34 L377.30 77.35 L377.43 77.37 L377.57 77.38 L377.71 77.39 L377.85 77.41 L377.98 77.42 L378.12 77.43 L378.26 77.44 L378.39 77.46 L378.53 77.47 L378.67 77.48" stroke="#0000ff" stroke-width="1.7"/>
<path d="M50.10 78.16 L50.23 78.15 L50.37 78.14 L50.51 78.13 L50.65 78.12 L50.78 78.11 L50.92 78.09 L51.06 78.08 L51.19 78.07 L51.33 78.06 L51.47 78.05 L51.60 78.04 L51.74 78.02 L51.88 78.01 L52.01 78.00 L52.15 77.99 L52.29 77.98 L52.43 77.96 L52.56 77.95 L52.70 77.94 L52.84 77.93 L52.97 77.92 L53.11 77.90 L53.25 77.89 L53.38 77.88 L53.52 77.87 L53.66 77.86 L53.79 77.84 L53.93 77.83 L54.07 77.82 L54.21 77.81 L54.34 77.79 L54.48 77.78 L54.62 77.77 L54.75 77.76 L54.89 77.74 L55.03 77.73 L55.16 77.72 L55.30 77.71 L55.44 77.69 L55.57 77.68 L55.71 77.67 L55.85 77.66 L55.98 77.64 L56.12 77.63 L56.26 77.62 L56.40 77.61 L56.53 77.59 L56.67 77.58 L56.81 77.57 L56.94 77.55 L57.08 77.54 L57.22 77.53 L57.35 77.52 L57.49 77.50 L57.63 77.49 L57.76 77.48 L57.90 77.46 L58.04 77.45 L58.18 77.44 L58.31 77.42 L58.45 77.41 L58.59 77.40 L58.72 77.38 L58.86 77.37 L59.00 77.36 L59.13 77.34 L59.27 77.33 L59.41 77.32 L59.54 77.30 L59.68 77.29 L59.82 77.28 L59.96 77.26 L60.09 77.25 L60.23 77.24 L60.37 77.22 L60.50 77.21 L60.64 77.20 L60.78 77.18 L60.91 77.17 L61.05 77.15 L61.19 77.14 L61.32 77.13 L61.46 77.11 L61.60 77.10 L61.73 77.09 L61.87 77.07 L62.01 77.06 L62.15 77.04 L62.28 77.03 L62.42 77.02 L62.56 77.00 L62.69 76.99 L62.83 76.97 L62.97 76.96 L63.10 76.94 L63.24 76.93 L63.38 76.92 L63.51 76.90 L63.65 76.89 L63.79 76.87 L63.93 76.86 L64.06 76.84 L64.20 76.83 L64.34 76.81 L64.47 76.80 L64.61 76.79 L64.75 76.77 L64.88 76.76 L65.02 76.74 L65.16 76.73 L65.29 76.71 L65.43 76.70 L65.57 76.68 L65.71 76.67 L65.84 76.65 L65.98 76.64 L66.12 76.62 L66.25 76.61 L66.39 76.59 L66.53 76.58 L66.66 76.56 L66.80 76.55 L66.94 76.53 L67.07 76.52 L67.21 76.50 L67.35 76.49 L67.48 76.47 L67.62 76.46 L67.76 76.44 L67.90 76.43 L68.03 76.41 L68.17 76.39 L68.31 76.38 L68.44 76.36 L68.58 76.35 L68.72 76.33 L68.85 76.32 L68.99 76.30 L69.13 76.28 L69.26 76.27 L69.40 76.25 L69.54 76.24 L69.68 76.22 L69.81 76.21 L69.95 76.19 L70.09 76.17 L70.22 76.16 L70.36 76.14 L70.50 76.13 L70.63 76.11 L70.77 76.09 L70.91 76.08 L71.04 76.06 L71.18 76.04 L71.32 76.03 L71.45 76.01 L71.59 75.99 L71.73 75.98 L71.87 75.96 L72.00 75.95 L72.14 75.93 L72.28 75.91 L72.41 75.90 L72.55 75.88 L72.69 75.86 L72.82 75.85 L72.96 75.83 L73.10 75.81 L73.23 75.79 L73.37 75.78 L73.51 75.76 L73.65 75.74 L73.78 75.73 L73.92 75.71 L74.06 75.69 L74.19 75.68 L74.33 75.66 L74.47 75.64 L74.60 75.62 L74.74 75.61 L74.88 75.59 L75.01 75.57 L75.15 75.55 L75.29 75.54 L75.43 75.52 L75.56 75.50 L75.70 75.48 L75.84 75.47 L75.97 75.45 L76.11 75.43 L76.25 75.41 L76.38 75.39 L76.52 75.38 L76.66 75.36 L76.79 75.34 L76.93 75.32 L77.07 75.30 L77.20 75.29 L77.34 75.27 L77.48 75.25 L77.62 75.23 L77.75 75.21 L77.89 75.19 L78.03 75.18 L78.16 75.16 L78.30 75.14 L78.44 75.12 L78.57 75.10 L78.71 75.08 L78.85 75.06 L78.98 75.05 L79.12 75.03 L79.26 75.01 L79.40 74.99 L79.53 74.97 L79.67 74.95 L79.81 74.93 L79.94 74.91 L80.08 74.89 L80.22 74.87 L80.35 74.86 L80.49 74.84 L80.63 74.82 L80.76 74.80 L80.90 74.78 L81.04 74.76 L81.18 74.74 L81.31 74.72 L81.45 74.70 L81.59 74.68 L81.72 74.66 L81.86 74.64 L82.00 74.62 L82.13 74.60 L82.27 74.58 L82.41 74.56 L82.54 74.54 L82.68 74.52 L82.82 74.50 L82.95 74.48 L83.09 74.46 L83.23 74.44 L83.37 74.42 L83.50 74.40 L83.64 74.38 L83.78 74.36 L83.91 74.34 L84.05 74.32 L84.19 74.30 L84.32 74.28 L84.46 74.26 L84.60 74.23 L84.73 74.21 L84.87 74.19 L85.01 74.17 L85.15 74.15 L85.28 74.13 L85.42 74.11 L85.56 74.09 L85.69 74.07 L85.83 74.04 L85.97 74.02 L86.10 74.00 L86.24 73.98 L86.38 73.96 L86.51 73.94 L86.65 73.92 L86.79 73.89 L86.93 73.87 L87.06 73.85 L87.20 73.83 L87.34 73.81 L87.47 73.78 L87.61 73.76 L87.75 73.74 L87.88 73.72 L88.02 73.70 L88.16 73.67 L88.29 73.65 L88.43 73.63 L88.57 73.61 L88.70 73.58 L88.84 73.56 L88.98 73.54 L89.12 73.52 L89.25 73.49 L89.39 73.47 L89.53 73.45 L89.66 73.43 L89.80 73.40 L89.94 73.38 L90.07 73.36 L90.21 73.33 L90.35 73.31 L90.48 73.29 L90.62 73.26 L90.76 73.24 L90.90 73.22 L91.03 73.19 L91.17 73.17 L91.31 73.15 L91.44 73.12 L91.58 73.10 L91.72 73.07 L91.85 73.05 L91.99 73.03 L92.13 73.00 L92.26 72.98 L92.40 72.95 L92.54 72.93 L92.68 72.91 L92.81 72.88 L92.95 72.86 L93.09 72.83 L93.22 72.81 L93.36 72.78 L93.50 72.76 L93.63 72.73 L93.77 72.71 L93.91 72.68 L94.04 72.66 L94.18 72.63 L94.32 72.61 L94.45 72.58 L94.59 72.56 L94.73 72.53 L94.87 72.51 L95.00 72.48 L95.14 72.46 L95.28 72.43 L95.41 72.41 L95.55 72.38 L95.69 72.35 L95.82 72.33 L95.96 72.30 L96.10 72.28 L96.23 72.25 L96.37 72.22 L96.51 72.20 L96.65 72.17 L96.78 72.15 L96.92 72.12 L97.06 72.09 L97.19 72.07 L97.33 72.04 L97.47 72.01 L97.60 71.99 L97.74 71.96 L97.88 71.93 L98.01 71.91 L98.15 71.88 L98.29 71.85 L98.43 71.82 L98.56 71.80 L98.70 71.77 L98.84 71.74 L98.97 71.71 L99.11 71.69 L99.25 71.66 L99.38 71.63 L99.52 71.60 L99.66 71.58 L99.79 71.55 L99.93 71.52 L100.07 71.49 L100.20 71.46 L100.34 71.43 L100.48 71.41 L100.62 71.38 L100.75 71.35 L100.89 71.32 L101.03 71.29 L101.16 71.26 L101.30 71.23 L101.44 71.21 L101.57 71.18 L101.71 71.15 L101.85 71.12 L101.98 71.09 L102.12 71.06 L102.26 71.03 L102.40 71.00 L102.53 70.97 L102.67 70.94 L102.81 70.91 L102.94 70.88 L103.08 70.85 L103.22 70.82 L103.35 70.79 L103.49 70.76 L103.63 70.73 L103.76 70.70 L103.90 70.67 L104.04 70.64 L104.17 70.61 L104.31 70.58 L104.45 70.55 L104.59 70.52 L104.72 70.49 L104.86 70.46 L105.00 70.42 L105.13 70.39 L105.27 70.36 L105.41 70.33 L105.54 70.30 L105.68 70.27 L105.82 70.24 L105.95 70.20 L106.09 70.17 L106.23 70.14 L106.37 70.11 L106.50 70.08 L106.64 70.04 L106.78 70.01 L106.91 69.98 L107.05 69.95 L107.19 69.92 L107.32 69.88 L107.46 69.85 L107.60 69.82 L107.73 69.78 L107.87 69.75 L108.01 69.72 L108.15 69.69 L108.28 69.65 L108.42 69.62 L108.56 69.59 L108.69 69.55 L108.83 69.52 L108.97 69.48 L109.10 69.45 L109.24 69.42 L109.38 69.38 L109.51 69.35 L109.65 69.31 L109.79 69.28 L109.92 69.25 L110.06 69.21 L110.20 69.18 L110.34 69.14 L110.47 69.11 L110.61 69.07 L110.75 69.04 L110.88 69.00 L111.02 68.97 L111.16 68.93 L111.29 68.90 L111.43 68.86 L111.57 68.83 L111.70 68.79 L111.84 68.76 L111.98 68.72 L112.12 68.68 L112.25 68.65 L112.39 68.61 L112.53 68.57 L112.66 68.54 L112.80 68.50 L112.94 68.47 L113.07 68.43 L113.21 68.39 L113.35 68.36 L113.48 68.32 L113.62 68.28 L113.76 68.24 L113.90 68.21 L114.03 68.17 L114.17 68.13 L114.31 68.09 L114.44 68.06 L114.58 68.02 L114.72 67.98 L114.85 67.94 L114.99 67.91 L115.13 67.87 L115.26 67.83 L115.40 67.79 L115.54 67.75 L115.67 67.71 L115.81 67.67 L115.95 67.64 L116.09 67.60 L116.22 67.56 L116.36 67.52 L116.50 67.48 L116.63 67.44 L116.77 67.40 L116.91 67.36 L117.04 67.32 L117.18 67.28 L117.32 67.24 L117.45 67.20 L117.59 67.16 L117.73 67.12 L117.87 67.08 L118.00 67.04 L118.14 67.00 L118.28 66.96 L118.41 66.92 L118.55 66.88 L118.69 66.84 L118.82 66.80 L118.96 66.75 L119.10 66.71 L119.23 66.67 L119.37 66.63 L119.51 66.59 L119.65 66.55 L119.78 66.51 L119.92 66.46 L120.06 66.42 L120.19 66.38 L120.33 66.34 L120.47 66.29 L120.60 66.25 L120.74 66.21 L120.88 66.17 L121.01 66.12 L121.15 66.08 L121.29 66.04 L121.42 65.99 L121.56 65.95 L121.70 65.91 L121.84 65.86 L121.97 65.82 L122.11 65.78 L122.25 65.73 L122.38 65.69 L122.52 65.64 L122.66 65.60 L122.79 65.55 L122.93 65.51 L123.07 65.47 L123.20 65.42 L123.34 65.38 L123.48 65.33 L123.62 65.29 L123.75 65.24 L123.89 65.20 L124.03 65.15 L124.16 65.10 L124.30 65.06 L124.44 65.01 L124.57 64.97 L124.71 64.92 L124.85 64.87 L124.98 64.83 L125.12 64.78 L125.26 64.74 L125.40 64.69 L125.53 64.64 L125.67 64.59 L125.81 64.55 L125.94 64.50 L126.08 64.45 L126.22 64.41 L126.35 64.36 L126.49 64.31 L126.63 64.26 L126.76 64.21 L126.90 64.17 L127.04 64.12 L127.17 64.07 L127.31 64.02 L127.45 63.97 L127.59 63.93 L127.72 63.88 L127.86 63.83 L128.00 63.78 L128.13 63.73 L128.27 63.68 L128.41 63.63 L128.54 63.58 L128.68 63.53 L128.82 63.48 L128.95 63.43 L129.09 63.38 L129.23 63.33 L129.37 63.28 L129.50 63.23 L129.64 63.18 L129.78 63.13 L129.91 63.08 L130.05 63.03 L130.19 62.98 L130.32 62.93 L130.46 62.88 L130.60 62.82 L130.73 62.77 L130.87 62.72 L131.01 62.67 L131.14 62.62 L131.28 62.57 L131.42 62.51 L131.56 62.46 L131.69 62.41 L131.83 62.36 L131.97 62.31 L132.10 62.25 L132.24 62.20 L132.38 62.15 L132.51 62.09 L132.65 62.04 L132.79 61.99 L132.92 61.93 L133.06 61.88 L133.20 61.83 L133.34 61.77 L133.47 61.72 L133.61 61.67 L133.75 61.61 L133.88 61.56 L134.02 61.50 L134.16 61.45 L134.29 61.39 L134.43 61.34 L134.57 61.28 L134.70 61.23 L134.84 61.17 L134.98 61.12 L135.12 61.06 L135.25 61.01 L135.39 60.95 L135.53 60.90 L135.66 60.84 L135.80 60.79 L135.94 60.73 L136.07 60.67 L136.21 60.62 L136.35 60.56 L136.48 60.51 L136.62 60.45 L136.76 60.39 L136.89 60.34 L137.03 60.28 L137.17 60.22 L137.31 60.16 L137.44 60.11 L137.58 60.05 L137.72 59.99 L137.85 59.94 L137.99 59.88 L138.13 59.82 L138.26 59.76 L138.40 59.70 L138.54 59.65 L138.67 59.59 L138.81 59.53 L138.95 59.47 L139.09 59.41 L139.22 59.35 L139.36 59.30 L139.50 59.24 L139.63 59.18 L139.77 59.12 L139.91 59.06 L140.04 59.00 L140.18 58.94 L140.32 58.88 L140.45 58.82 L140.59 58.76 L140.73 58.70 L140.87 58.64 L141.00 58.58 L141.14 58.52 L141.28 58.46 L141.41 58.40 L141.55 58.34 L141.69 58.28 L141.82 58.22 L141.96 58.16 L142.10 58.10 L142.23 58.04 L142.37 57.98 L142.51 57.92 L142.64 57.86 L142.78 57.80 L142.92 57.74 L143.06 57.68 L143.19 57.62 L143.33 57.55 L143.47 57.49 L143.60 57.43 L143.74 57.37 L143.88 57.31 L144.01 57.25 L144.15 57.19 L144.29 57.12 L144.42 57.06 L144.56 57.00 L144.70 56.94 L144.84 56.88 L144.97 56.81 L145.11 56.75 L145.25 56.69 L145.38 56.63 L145.52 56.57 L145.66 56.50 L145.79 56.44 L145.93 56.38 L146.07 56.32 L146.20 56.25 L146.34 56.19 L146.48 56.13 L146.62 56.07 L146.75 56.00 L146.89 55.94 L147.03 55.88 L147.16 55.81 L147.30 55.75 L147.44 55.69 L147.57 55.63 L147.71 55.56 L147.85 55.50 L147.98 55.44 L148.12 55.37 L148.26 55.31 L148.39 55.25 L148.53 55.19 L148.67 55.12 L148.81 55.06 L148.94 55.00 L149.08 54.93 L149.22 54.87 L149.35 54.81 L149.49 54.75 L149.63 54.68 L149.76 54.62 L149.90 54.56 L150.04 54.49 L150.17 54.43 L150.31 54.37 L150.45 54.31 L150.59 54.24 L150.72 54.18 L150.86 54.12 L151.00 54.06 L151.13 53.99 L151.27 53.93 L151.41 53.87 L151.54 53.81 L151.68 53.74 L151.82 53.68 L151.95 53.62 L152.09 53.56 L152.23 53.49 L152.37 53.43 L152.50 53.37 L152.64 53.31 L152.78 53.25 L152.91 53.18 L153.05 53.12 L153.19 53.06 L153.32 53.00 L153.46 52.94 L153.60 52.88 L153.73 52.82 L153.87 52.76 L154.01 52.69 L154.14 52.63 L154.28 52.57 L154.42 52.51 L154.56 52.45 L154.69 52.39 L154.83 52.33 L154.97 52.27 L155.10 52.21 L155.24 52.15 L155.38 52.09 L155.51 52.03 L155.65 51.98 L155.79 51.92 L155.92 51.86 L156.06 51.80 L156.20 51.74 L156.34 51.68 L156.47 51.63 L156.61 51.57 L156.75 51.51 L156.88 51.45 L157.02 51.40 L157.16 51.34 L157.29 51.28 L157.43 51.23 L157.57 51.17 L157.70 51.12 L157.84 51.06 L157.98 51.01 L158.12 50.95 L158.25 50.90 L158.39 50.84 L158.53 50.79 L158.66 50.74 L158.80 50.68 L158.94 50.63 L159.07 50.58 L159.21 50.52 L159.35 50.47 L159.48 50.42 L159.62 50.37 L159.76 50.32 L159.89 50.27 L160.03 50.22 L160.17 50.17 L160.31 50.12 L160.44 50.07 L160.58 50.02 L160.72 49.97 L160.85 49.93 L160.99 49.88 L161.13 49.83 L161.26 49.79 L161.40 49.74 L161.54 49.70 L161.67 49.65 L161.81 49.61 L161.95 49.56 L162.09 49.52 L162.22 49.48 L162.36 49.44 L162.50 49.39 L162.63 49.35 L162.77 49.31 L162.91 49.27 L163.04 49.23 L163.18 49.20 L163.32 49.16 L163.45 49.12 L163.59 49.08 L163.73 49.05 L163.86 49.01 L164.00 48.98 L164.14 48.94 L164.28 48.91 L164.41 48.88 L164.55 48.84 L164.69 48.81 L164.82 48.78 L164.96 48.75 L165.10 48.72 L165.23 48.70 L165.37 48.67 L165.51 48.64 L165.64 48.62 L165.78 48.59 L165.92 48.57 L166.06 48.54 L166.19 48.52 L166.33 48.50 L166.47 48.48 L166.60 48.46 L166.74 48.44 L166.88 48.42 L167.01 48.41 L167.15 48.39 L167.29 48.38 L167.42 48.36 L167.56 48.35 L167.70 48.34 L167.84 48.33 L167.97 48.32 L168.11 48.31 L168.25 48.30 L168.38 48.29 L168.52 48.29 L168.66 48.29 L168.79 48.28 L168.93 48.28 L169.07 48.28 L169.20 48.28 L169.34 48.28 L169.48 48.29 L169.61 48.29 L169.75 48.30 L169.89 48.30 L170.03 48.31 L170.16 48.32 L170.30 48.33 L170.44 48.35 L170.57 48.36 L170.71 48.37 L170.85 48.39 L170.98 48.41 L171.12 48.43 L171.26 48.45 L171.39 48.47 L171.53 48.50 L171.67 48.52 L171.81 48.55 L171.94 48.58 L172.08 48.61 L172.22 48.64 L172.35 48.68 L172.49 48.71 L172.63 48.75 L172.76 48.79 L172.90 48.83 L173.04 48.87 L173.17 48.92 L173.31 48.97 L173.45 49.01 L173.59 49.06 L173.72 49.12 L173.86 49.17 L174.00 49.23 L174.13 49.28 L174.27 49.34 L174.41 49.41 L174.54 49.47 L174.68 49.54 L174.82 49.61 L174.95 49.68 L175.09 49.75 L175.23 49.82 L175.36 49.90 L175.50 49.98 L175.64 50.06 L175.78 50.14 L175.91 50.23 L176.05 50.32 L176.19 50.41 L176.32 50.50 L176.46 50.60 L176.60 50.70 L176.73 50.80 L176.87 50.90 L177.01 51.01 L177.14 51.11 L177.28 51.22 L177.42 51.34 L177.56 51.45 L177.69 51.57 L177.83 51.69 L177.97 51.82 L178.10 51.95 L178.24 52.08 L178.38 52.21 L178.51 52.34 L178.65 52.48 L178.79 52.62 L178.92 52.77 L179.06 52.91 L179.20 53.06 L179.34 53.22 L179.47 53.37 L179.61 53.53 L179.75 53.70 L179.88 53.86 L180.02 54.03 L180.16 54.20 L180.29 54.38 L180.43 54.56 L180.57 54.74 L180.70 54.92 L180.84 55.11 L180.98 55.30 L181.11 55.50 L181.25 55.70 L181.39 55.90 L181.53 56.11 L181.66 56.31 L181.80 56.53 L181.94 56.74 L182.07 56.96 L182.21 57.19 L182.35 57.42 L182.48 57.65 L182.62 57.88 L182.76 58.12 L182.89 58.36 L183.03 58.61 L183.17 58.86 L183.31 59.11 L183.44 59.37 L183.58 59.63 L183.72 59.90 L183.85 60.17 L183.99 60.44 L184.13 60.72 L184.26 61.00 L184.40 61.29 L184.54 61.58 L184.67 61.88 L184.81 62.18 L184.95 62.48 L185.09 62.79 L185.22 63.10 L185.36 63.41 L185.50 63.73 L185.63 64.06 L185.77 64.39 L185.91 64.72 L186.04 65.06 L186.18 65.40 L186.32 65.75 L186.45 66.10 L186.59 66.45 L186.73 66.81 L186.86 67.18 L187.00 67.55 L187.14 67.92 L187.28 68.30 L187.41 68.68 L187.55 69.07 L187.69 69.46 L187.82 69.86 L187.96 70.26 L188.10 70.66 L188.23 71.08 L188.37 71.49 L188.51 71.91 L188.64 72.34 L188.78 72.77 L188.92 73.20 L189.06 73.64 L189.19 74.08 L189.33 74.53 L189.47 74.98 L189.60 75.44 L189.74 75.90 L189.88 76.37 L190.01 76.84 L190.15 77.32 L190.29 77.80 L190.42 78.29 L190.56 78.78 L190.70 79.27 L190.84 79.77 L190.97 80.28 L191.11 80.79 L191.25 81.30 L191.38 81.82 L191.52 82.34 L191.66 82.87 L191.79 83.41 L191.93 83.94 L192.07 84.48 L192.20 85.03 L192.34 85.58 L192.48 86.14 L192.61 86.70 L192.75 87.26 L192.89 87.83 L193.03 88.40 L193.16 88.98 L193.30 89.56 L193.44 90.15 L193.57 90.74 L193.71 91.33 L193.85 91.93 L193.98 92.54 L194.12 93.14 L194.26 93.75 L194.39 94.37 L194.53 94.99 L194.67 95.61 L194.81 96.24 L194.94 96.87 L195.08 97.50 L195.22 98.14 L195.35 98.78 L195.49 99.42 L195.63 100.07 L195.76 100.72 L195.90 101.38 L196.04 102.04 L196.17 102.70 L196.31 103.36 L196.45 104.03 L196.58 104.70 L196.72 105.38 L196.86 106.05 L197.00 106.73 L197.13 107.41 L197.27 108.10 L197.41 108.78 L197.54 109.47 L197.68 110.16 L197.82 110.86 L197.95 111.55 L198.09 112.25 L198.23 112.95 L198.36 113.65 L198.50 114.36 L198.64 115.06 L198.78 115.77 L198.91 116.47 L199.05 117.18 L199.19 117.89 L199.32 118.61 L199.46 119.32 L199.60 120.03 L199.73 120.74 L199.87 121.46 L200.01 122.17 L200.14 122.89 L200.28 123.60 L200.42 124.32 L200.56 125.04 L200.69 125.75 L200.83 126.47 L200.97 127.18 L201.10 127.90 L201.24 128.61 L201.38 129.32 L201.51 130.03 L201.65 130.75 L201.79 131.45 L201.92 132.16 L202.06 132.87 L202.20 133.58 L202.33 134.28 L202.47 134.98 L202.61 135.68 L202.75 136.38 L202.88 137.07 L203.02 137.77 L203.16 138.46 L203.29 139.14 L203.43 139.83 L203.57 140.51 L203.70 141.19 L203.84 141.86 L203.98 142.53 L204.11 143.20 L204.25 143.87 L204.39 144.53 L204.53 145.18 L204.66 145.84 L204.80 146.48 L204.94 147.13 L205.07 147.77 L205.21 148.40 L205.35 149.03 L205.48 149.65 L205.62 150.27 L205.76 150.88 L205.89 151.49 L206.03 152.09 L206.17 152.69 L206.31 153.28 L206.44 153.86 L206.58 154.44 L206.72 155.01 L206.85 155.58 L206.99 156.14 L207.13 156.69 L207.26 157.23 L207.40 157.77 L207.54 158.30 L207.67 158.83 L207.81 159.34 L207.95 159.85 L208.08 160.35 L208.22 160.85 L208.36 161.33 L208.50 161.81 L208.63 162.28 L208.77 162.74 L208.91 163.19 L209.04 163.63 L209.18 164.07 L209.32 164.50 L209.45 164.91 L209.59 165.32 L209.73 165.72 L209.86 166.11 L210.00 166.49 L210.14 166.87 L210.28 167.23 L210.41 167.58 L210.55 167.92 L210.69 168.26 L210.82 168.58 L210.96 168.90 L211.10 169.20 L211.23 169.49 L211.37 169.78 L211.51 170.05 L211.64 170.31 L211.78 170.57 L211.92 170.81 L212.06 171.04 L212.19 171.26 L212.33 171.48 L212.47 171.68 L212.60 171.87 L212.74 172.05 L212.88 172.21 L213.01 172.37 L213.15 172.52 L213.29 172.65 L213.42 172.78 L213.56 172.89 L213.70 173.00 L213.83 173.09 L213.97 173.17 L214.11 173.24 L214.25 173.30 L214.38 173.35 L214.52 173.38 L214.66 173.41 L214.79 173.42 L214.93 173.42 L215.07 173.42 L215.20 173.40 L215.34 173.37 L215.48 173.33 L215.61 173.27 L215.75 173.21 L215.89 173.14 L216.03 173.05 L216.16 172.95 L216.30 172.84 L216.44 172.73 L216.57 172.60 L216.71 172.46 L216.85 172.30 L216.98 172.14 L217.12 171.97 L217.26 171.78 L217.39 171.59 L217.53 171.38 L217.67 171.17 L217.81 170.94 L217.94 170.71 L218.08 170.46 L218.22 170.20 L218.35 169.93 L218.49 169.65 L218.63 169.37 L218.76 169.07 L218.90 168.76 L219.04 168.44 L219.17 168.11 L219.31 167.77 L219.45 167.43 L219.58 167.07 L219.72 166.70 L219.86 166.33 L220.00 165.94 L220.13 165.55 L220.27 165.14 L220.41 164.73 L220.54 164.31 L220.68 163.88 L220.82 163.44 L220.95 162.99 L221.09 162.54 L221.23 162.07 L221.36 161.60 L221.50 161.12 L221.64 160.63 L221.78 160.13 L221.91 159.63 L222.05 159.12 L222.19 158.60 L222.32 158.07 L222.46 157.54 L222.60 157.00 L222.73 156.45 L222.87 155.89 L223.01 155.33 L223.14 154.76 L223.28 154.19 L223.42 153.61 L223.55 153.02 L223.69 152.43 L223.83 151.83 L223.97 151.22 L224.10 150.61 L224.24 150.00 L224.38 149.38 L224.51 148.75 L224.65 148.12 L224.79 147.49 L224.92 146.84 L225.06 146.20 L225.20 145.55 L225.33 144.90 L225.47 144.24 L225.61 143.58 L225.75 142.91 L225.88 142.24 L226.02 141.57 L226.16 140.89 L226.29 140.21 L226.43 139.53 L226.57 138.84 L226.70 138.15 L226.84 137.46 L226.98 136.77 L227.11 136.07 L227.25 135.37 L227.39 134.67 L227.53 133.97 L227.66 133.27 L227.80 132.56 L227.94 131.85 L228.07 131.14 L228.21 130.43 L228.35 129.72 L228.48 129.01 L228.62 128.30 L228.76 127.58 L228.89 126.87 L229.03 126.15 L229.17 125.44 L229.30 124.72 L229.44 124.01 L229.58 123.29 L229.72 122.57 L229.85 121.86 L229.99 121.15 L230.13 120.43 L230.26 119.72 L230.40 119.00 L230.54 118.29 L230.67 117.58 L230.81 116.87 L230.95 116.16 L231.08 115.46 L231.22 114.75 L231.36 114.05 L231.50 113.34 L231.63 112.64 L231.77 111.94 L231.91 111.25 L232.04 110.55 L232.18 109.86 L232.32 109.17 L232.45 108.48 L232.59 107.80 L232.73 107.11 L232.86 106.43 L233.00 105.75 L233.14 105.08 L233.28 104.41 L233.41 103.74 L233.55 103.07 L233.69 102.41 L233.82 101.75 L233.96 101.09 L234.10 100.44 L234.23 99.79 L234.37 99.14 L234.51 98.50 L234.64 97.86 L234.78 97.22 L234.92 96.59 L235.05 95.96 L235.19 95.34 L235.33 94.71 L235.47 94.10 L235.60 93.48 L235.74 92.88 L235.88 92.27 L236.01 91.67 L236.15 91.07 L236.29 90.48 L236.42 89.89 L236.56 89.31 L236.70 88.73 L236.83 88.15 L236.97 87.58 L237.11 87.01 L237.25 86.45 L237.38 85.89 L237.52 85.34 L237.66 84.79 L237.79 84.25 L237.93 83.71 L238.07 83.17 L238.20 82.64 L238.34 82.11 L238.48 81.59 L238.61 81.08 L238.75 80.56 L238.89 80.06 L239.03 79.55 L239.16 79.05 L239.30 78.56 L239.44 78.07 L239.57 77.59 L239.71 77.11 L239.85 76.63 L239.98 76.16 L240.12 75.70 L240.26 75.24 L240.39 74.78 L240.53 74.33 L240.67 73.89 L240.80 73.44 L240.94 73.01 L241.08 72.58 L241.22 72.15 L241.35 71.73 L241.49 71.31 L241.63 70.89 L241.76 70.49 L241.90 70.08 L242.04 69.68 L242.17 69.29 L242.31 68.90 L242.45 68.51 L242.58 68.13 L242.72 67.76 L242.86 67.38 L243.00 67.02 L243.13 66.65 L243.27 66.30 L243.41 65.94 L243.54 65.59 L243.68 65.25 L243.82 64.91 L243.95 64.57 L244.09 64.24 L244.23 63.91 L244.36 63.59 L244.50 63.27 L244.64 62.96 L244.78 62.65 L244.91 62.34 L245.05 62.04 L245.19 61.75 L245.32 61.45 L245.46 61.16 L245.60 60.88 L245.73 60.60 L245.87 60.32 L246.01 60.05 L246.14 59.78 L246.28 59.52 L246.42 59.26 L246.55 59.00 L246.69 58.75 L246.83 58.50 L246.97 58.26 L247.10 58.01 L247.24 57.78 L247.38 57.54 L247.51 57.31 L247.65 57.09 L247.79 56.87 L247.92 56.65 L248.06 56.43 L248.20 56.22 L248.33 56.01 L248.47 55.81 L248.61 55.61 L248.75 55.41 L248.88 55.22 L249.02 55.03 L249.16 54.84 L249.29 54.66 L249.43 54.48 L249.57 54.30 L249.70 54.13 L249.84 53.96 L249.98 53.79 L250.11 53.62 L250.25 53.46 L250.39 53.30 L250.53 53.15 L250.66 53.00 L250.80 52.85 L250.94 52.70 L251.07 52.56 L251.21 52.42 L251.35 52.28 L251.48 52.15 L251.62 52.02 L251.76 51.89 L251.89 51.76 L252.03 51.64 L252.17 51.52 L252.30 51.40 L252.44 51.29 L252.58 51.18 L252.72 51.07 L252.85 50.96 L252.99 50.85 L253.13 50.75 L253.26 50.65 L253.40 50.56 L253.54 50.46 L253.67 50.37 L253.81 50.28 L253.95 50.19 L254.08 50.11 L254.22 50.02 L254.36 49.94 L254.50 49.87 L254.63 49.79 L254.77 49.72 L254.91 49.64 L255.04 49.57 L255.18 49.51 L255.32 49.44 L255.45 49.38 L255.59 49.32 L255.73 49.26 L255.86 49.20 L256.00 49.15 L256.14 49.09 L256.27 49.04 L256.41 48.99 L256.55 48.94 L256.69 48.90 L256.82 48.86 L256.96 48.81 L257.10 48.77 L257.23 48.73 L257.37 48.70 L257.51 48.66 L257.64 48.63 L257.78 48.60 L257.92 48.57 L258.05 48.54 L258.19 48.51 L258.33 48.49 L258.47 48.46 L258.60 48.44 L258.74 48.42 L258.88 48.40 L259.01 48.38 L259.15 48.37 L259.29 48.35 L259.42 48.34 L259.56 48.33 L259.70 48.32 L259.83 48.31 L259.97 48.30 L260.11 48.29 L260.25 48.29 L260.38 48.28 L260.52 48.28 L260.66 48.28 L260.79 48.28 L260.93 48.28 L261.07 48.28 L261.20 48.29 L261.34 48.29 L261.48 48.30 L261.61 48.30 L261.75 48.31 L261.89 48.32 L262.02 48.33 L262.16 48.34 L262.30 48.35 L262.44 48.37 L262.57 48.38 L262.71 48.40 L262.85 48.41 L262.98 48.43 L263.12 48.45 L263.26 48.47 L263.39 48.49 L263.53 48.51 L263.67 48.53 L263.80 48.55 L263.94 48.58 L264.08 48.60 L264.22 48.63 L264.35 48.65 L264.49 48.68 L264.63 48.71 L264.76 48.74 L264.90 48.77 L265.04 48.80 L265.17 48.83 L265.31 48.86 L265.45 48.89 L265.58 48.92 L265.72 48.96 L265.86 48.99 L266.00 49.03 L266.13 49.06 L266.27 49.10 L266.41 49.14 L266.54 49.17 L266.68 49.21 L266.82 49.25 L266.95 49.29 L267.09 49.33 L267.23 49.37 L267.36 49.41 L267.50 49.45 L267.64 49.50 L267.77 49.54 L267.91 49.58 L268.05 49.63 L268.19 49.67 L268.32 49.72 L268.46 49.76 L268.60 49.81 L268.73 49.85 L268.87 49.90 L269.01 49.95 L269.14 50.00 L269.28 50.04 L269.42 50.09 L269.55 50.14 L269.69 50.19 L269.83 50.24 L269.97 50.29 L270.10 50.34 L270.24 50.39 L270.38 50.44 L270.51 50.50 L270.65 50.55 L270.79 50.60 L270.92 50.65 L271.06 50.71 L271.20 50.76 L271.33 50.81 L271.47 50.87 L271.61 50.92 L271.75 50.98 L271.88 51.03 L272.02 51.09 L272.16 51.14 L272.29 51.20 L272.43 51.25 L272.57 51.31 L272.70 51.37 L272.84 51.42 L272.98 51.48 L273.11 51.54 L273.25 51.59 L273.39 51.65 L273.52 51.71 L273.66 51.77 L273.80 51.83 L273.94 51.88 L274.07 51.94 L274.21 52.00 L274.35 52.06 L274.48 52.12 L274.62 52.18 L274.76 52.24 L274.89 52.30 L275.03 52.36 L275.17 52.42 L275.30 52.48 L275.44 52.54 L275.58 52.60 L275.72 52.66 L275.85 52.72 L275.99 52.78 L276.13 52.84 L276.26 52.90 L276.40 52.97 L276.54 53.03 L276.67 53.09 L276.81 53.15 L276.95 53.21 L277.08 53.27 L277.22 53.34 L277.36 53.40 L277.50 53.46 L277.63 53.52 L277.77 53.58 L277.91 53.65 L278.04 53.71 L278.18 53.77 L278.32 53.83 L278.45 53.89 L278.59 53.96 L278.73 54.02 L278.86 54.08 L279.00 54.15 L279.14 54.21 L279.27 54.27 L279.41 54.33 L279.55 54.40 L279.69 54.46 L279.82 54.52 L279.96 54.58 L280.10 54.65 L280.23 54.71 L280.37 54.77 L280.51 54.84 L280.64 54.90 L280.78 54.96 L280.92 55.03 L281.05 55.09 L281.19 55.15 L281.33 55.21 L281.47 55.28 L281.60 55.34 L281.74 55.40 L281.88 55.47 L282.01 55.53 L282.15 55.59 L282.29 55.65 L282.42 55.72 L282.56 55.78 L282.70 55.84 L282.83 55.91 L282.97 55.97 L283.11 56.03 L283.25 56.09 L283.38 56.16 L283.52 56.22 L283.66 56.28 L283.79 56.34 L283.93 56.41 L284.07 56.47 L284.20 56.53 L284.34 56.59 L284.48 56.65 L284.61 56.72 L284.75 56.78 L284.89 56.84 L285.02 56.90 L285.16 56.97 L285.30 57.03 L285.44 57.09 L285.57 57.15 L285.71 57.21 L285.85 57.27 L285.98 57.34 L286.12 57.40 L286.26 57.46 L286.39 57.52 L286.53 57.58 L286.67 57.64 L286.80 57.70 L286.94 57.76 L287.08 57.83 L287.22 57.89 L287.35 57.95 L287.49 58.01 L287.63 58.07 L287.76 58.13 L287.90 58.19 L288.04 58.25 L288.17 58.31 L288.31 58.37 L288.45 58.43 L288.58 58.49 L288.72 58.55 L288.86 58.61 L288.99 58.67 L289.13 58.73 L289.27 58.79 L289.41 58.85 L289.54 58.91 L289.68 58.97 L289.82 59.03 L289.95 59.09 L290.09 59.15 L290.23 59.20 L290.36 59.26 L290.50 59.32 L290.64 59.38 L290.77 59.44 L290.91 59.50 L291.05 59.56 L291.19 59.61 L291.32 59.67 L291.46 59.73 L291.60 59.79 L291.73 59.85 L291.87 59.90 L292.01 59.96 L292.14 60.02 L292.28 60.08 L292.42 60.13 L292.55 60.19 L292.69 60.25 L292.83 60.30 L292.97 60.36 L293.10 60.42 L293.24 60.47 L293.38 60.53 L293.51 60.59 L293.65 60.64 L293.79 60.70 L293.92 60.76 L294.06 60.81 L294.20 60.87 L294.33 60.92 L294.47 60.98 L294.61 61.03 L294.74 61.09 L294.88 61.14 L295.02 61.20 L295.16 61.25 L295.29 61.31 L295.43 61.36 L295.57 61.42 L295.70 61.47 L295.84 61.53 L295.98 61.58 L296.11 61.64 L296.25 61.69 L296.39 61.74 L296.52 61.80 L296.66 61.85 L296.80 61.90 L296.94 61.96 L297.07 62.01 L297.21 62.06 L297.35 62.12 L297.48 62.17 L297.62 62.22 L297.76 62.28 L297.89 62.33 L298.03 62.38 L298.17 62.43 L298.30 62.49 L298.44 62.54 L298.58 62.59 L298.72 62.64 L298.85 62.69 L298.99 62.74 L299.13 62.80 L299.26 62.85 L299.40 62.90 L299.54 62.95 L299.67 63.00 L299.81 63.05 L299.95 63.10 L300.08 63.15 L300.22 63.20 L300.36 63.25 L300.49 63.30 L300.63 63.35 L300.77 63.40 L300.91 63.45 L301.04 63.50 L301.18 63.55 L301.32 63.60 L301.45 63.65 L301.59 63.70 L301.73 63.75 L301.86 63.80 L302.00 63.85 L302.14 63.90 L302.27 63.95 L302.41 64.00 L302.55 64.04 L302.69 64.09 L302.82 64.14 L302.96 64.19 L303.10 64.24 L303.23 64.28 L303.37 64.33 L303.51 64.38 L303.64 64.43 L303.78 64.47 L303.92 64.52 L304.05 64.57 L304.19 64.62 L304.33 64.66 L304.47 64.71 L304.60 64.76 L304.74 64.80 L304.88 64.85 L305.01 64.89 L305.15 64.94 L305.29 64.99 L305.42 65.03 L305.56 65.08 L305.70 65.12 L305.83 65.17 L305.97 65.22 L306.11 65.26 L306.24 65.31 L306.38 65.35 L306.52 65.40 L306.66 65.44 L306.79 65.49 L306.93 65.53 L307.07 65.57 L307.20 65.62 L307.34 65.66 L307.48 65.71 L307.61 65.75 L307.75 65.79 L307.89 65.84 L308.02 65.88 L308.16 65.93 L308.30 65.97 L308.44 66.01 L308.57 66.06 L308.71 66.10 L308.85 66.14 L308.98 66.18 L309.12 66.23 L309.26 66.27 L309.39 66.31 L309.53 66.36 L309.67 66.40 L309.80 66.44 L309.94 66.48 L310.08 66.52 L310.22 66.57 L310.35 66.61 L310.49 66.65 L310.63 66.69 L310.76 66.73 L310.90 66.77 L311.04 66.81 L311.17 66.86 L311.31 66.90 L311.45 66.94 L311.58 66.98 L311.72 67.02 L311.86 67.06 L311.99 67.10 L312.13 67.14 L312.27 67.18 L312.41 67.22 L312.54 67.26 L312.68 67.30 L312.82 67.34 L312.95 67.38 L313.09 67.42 L313.23 67.46 L313.36 67.50 L313.50 67.54 L313.64 67.58 L313.77 67.61 L313.91 67.65 L314.05 67.69 L314.19 67.73 L314.32 67.77 L314.46 67.81 L314.60 67.85 L314.73 67.88 L314.87 67.92 L315.01 67.96 L315.14 68.00 L315.28 68.04 L315.42 68.07 L315.55 68.11 L315.69 68.15 L315.83 68.19 L315.96 68.22 L316.10 68.26 L316.24 68.30 L316.38 68.33 L316.51 68.37 L316.65 68.41 L316.79 68.45 L316.92 68.48 L317.06 68.52 L317.20 68.55 L317.33 68.59 L317.47 68.63 L317.61 68.66 L317.74 68.70 L317.88 68.73 L318.02 68.77 L318.16 68.81 L318.29 68.84 L318.43 68.88 L318.57 68.91 L318.70 68.95 L318.84 68.98 L318.98 69.02 L319.11 69.05 L319.25 69.09 L319.39 69.12 L319.52 69.16 L319.66 69.19 L319.80 69.23 L319.94 69.26 L320.07 69.30 L320.21 69.33 L320.35 69.36 L320.48 69.40 L320.62 69.43 L320.76 69.47 L320.89 69.50 L321.03 69.53 L321.17 69.57 L321.30 69.60 L321.44 69.63 L321.58 69.67 L321.71 69.70 L321.85 69.73 L321.99 69.77 L322.13 69.80 L322.26 69.83 L322.40 69.86 L322.54 69.90 L322.67 69.93 L322.81 69.96 L322.95 69.99 L323.08 70.03 L323.22 70.06 L323.36 70.09 L323.49 70.12 L323.63 70.16 L323.77 70.19 L323.91 70.22 L324.04 70.25 L324.18 70.28 L324.32 70.31 L324.45 70.34 L324.59 70.38 L324.73 70.41 L324.86 70.44 L325.00 70.47 L325.14 70.50 L325.27 70.53 L325.41 70.56 L325.55 70.59 L325.69 70.62 L325.82 70.65 L325.96 70.68 L326.10 70.71 L326.23 70.74 L326.37 70.78 L326.51 70.81 L326.64 70.84 L326.78 70.87 L326.92 70.90 L327.05 70.92 L327.19 70.95 L327.33 70.98 L327.46 71.01 L327.60 71.04 L327.74 71.07 L327.88 71.10 L328.01 71.13 L328.15 71.16 L328.29 71.19 L328.42 71.22 L328.56 71.25 L328.70 71.28 L328.83 71.30 L328.97 71.33 L329.11 71.36 L329.24 71.39 L329.38 71.42 L329.52 71.45 L329.66 71.48 L329.79 71.50 L329.93 71.53 L330.07 71.56 L330.20 71.59 L330.34 71.62 L330.48 71.64 L330.61 71.67 L330.75 71.70 L330.89 71.73 L331.02 71.75 L331.16 71.78 L331.30 71.81 L331.44 71.84 L331.57 71.86 L331.71 71.89 L331.85 71.92 L331.98 71.94 L332.12 71.97 L332.26 72.00 L332.39 72.02 L332.53 72.05 L332.67 72.08 L332.80 72.10 L332.94 72.13 L333.08 72.16 L333.21 72.18 L333.35 72.21 L333.49 72.24 L333.63 72.26 L333.76 72.29 L333.90 72.31 L334.04 72.34 L334.17 72.37 L334.31 72.39 L334.45 72.42 L334.58 72.44 L334.72 72.47 L334.86 72.49 L334.99 72.52 L335.13 72.54 L335.27 72.57 L335.41 72.59 L335.54 72.62 L335.68 72.65 L335.82 72.67 L335.95 72.70 L336.09 72.72 L336.23 72.74 L336.36 72.77 L336.50 72.79 L336.64 72.82 L336.77 72.84 L336.91 72.87 L337.05 72.89 L337.19 72.92 L337.32 72.94 L337.46 72.96 L337.60 72.99 L337.73 73.01 L337.87 73.04 L338.01 73.06 L338.14 73.08 L338.28 73.11 L338.42 73.13 L338.55 73.16 L338.69 73.18 L338.83 73.20 L338.96 73.23 L339.10 73.25 L339.24 73.27 L339.38 73.30 L339.51 73.32 L339.65 73.34 L339.79 73.37 L339.92 73.39 L340.06 73.41 L340.20 73.44 L340.33 73.46 L340.47 73.48 L340.61 73.50 L340.74 73.53 L340.88 73.55 L341.02 73.57 L341.16 73.59 L341.29 73.62 L341.43 73.64 L341.57 73.66 L341.70 73.68 L341.84 73.71 L341.98 73.73 L342.11 73.75 L342.25 73.77 L342.39 73.79 L342.52 73.82 L342.66 73.84 L342.80 73.86 L342.94 73.88 L343.07 73.90 L343.21 73.93 L343.35 73.95 L343.48 73.97 L343.62 73.99 L343.76 74.01 L343.89 74.03 L344.03 74.05 L344.17 74.08 L344.30 74.10 L344.44 74.12 L344.58 74.14 L344.71 74.16 L344.85 74.18 L344.99 74.20 L345.13 74.22 L345.26 74.24 L345.40 74.26 L345.54 74.29 L345.67 74.31 L345.81 74.33 L345.95 74.35 L346.08 74.37 L346.22 74.39 L346.36 74.41 L346.49 74.43 L346.63 74.45 L346.77 74.47 L346.91 74.49 L347.04 74.51 L347.18 74.53 L347.32 74.55 L347.45 74.57 L347.59 74.59 L347.73 74.61 L347.86 74.63 L348.00 74.65 L348.14 74.67 L348.27 74.69 L348.41 74.71 L348.55 74.73 L348.68 74.75 L348.82 74.77 L348.96 74.79 L349.10 74.81 L349.23 74.83 L349.37 74.84 L349.51 74.86 L349.64 74.88 L349.78 74.90 L349.92 74.92 L350.05 74.94 L350.19 74.96 L350.33 74.98 L350.46 75.00 L350.60 75.02 L350.74 75.03 L350.88 75.05 L351.01 75.07 L351.15 75.09 L351.29 75.11 L351.42 75.13 L351.56 75.15 L351.70 75.17 L351.83 75.18 L351.97 75.20 L352.11 75.22 L352.24 75.24 L352.38 75.26 L352.52 75.28 L352.66 75.29 L352.79 75.31 L352.93 75.33 L353.07 75.35 L353.20 75.37 L353.34 75.38 L353.48 75.40 L353.61 75.42 L353.75 75.44 L353.89 75.46 L354.02 75.47 L354.16 75.49 L354.30 75.51 L354.43 75.53 L354.57 75.54 L354.71 75.56 L354.85 75.58 L354.98 75.60 L355.12 75.61 L355.26 75.63 L355.39 75.65 L355.53 75.67 L355.67 75.68 L355.80 75.70 L355.94 75.72 L356.08 75.73 L356.21 75.75 L356.35 75.77 L356.49 75.79 L356.63 75.80 L356.76 75.82 L356.90 75.84 L357.04 75.85 L357.17 75.87 L357.31 75.89 L357.45 75.90 L357.58 75.92 L357.72 75.94 L357.86 75.95 L357.99 75.97 L358.13 75.99 L358.27 76.00 L358.41 76.02 L358.54 76.03 L358.68 76.05 L358.82 76.07 L358.95 76.08 L359.09 76.10 L359.23 76.12 L359.36 76.13 L359.50 76.15 L359.64 76.16 L359.77 76.18 L359.91 76.20 L360.05 76.21 L360.18 76.23 L360.32 76.24 L360.46 76.26 L360.60 76.28 L360.73 76.29 L360.87 76.31 L361.01 76.32 L361.14 76.34 L361.28 76.35 L361.42 76.37 L361.55 76.39 L361.69 76.40 L361.83 76.42 L361.96 76.43 L362.10 76.45 L362.24 76.46 L362.38 76.48 L362.51 76.49 L362.65 76.51 L362.79 76.52 L362.92 76.54 L363.06 76.55 L363.20 76.57 L363.33 76.58 L363.47 76.60 L363.61 76.61 L363.74 76.63 L363.88 76.64 L364.02 76.66 L364.16 76.67 L364.29 76.69 L364.43 76.70 L364.57 76.72 L364.70 76.73 L364.84 76.75 L364.98 76.76 L365.11 76.78 L365.25 76.79 L365.39 76.81 L365.52 76.82 L365.66 76.84 L365.80 76.85 L365.93 76.86 L366.07 76.88 L366.21 76.89 L366.35 76.91 L366.48 76.92 L366.62 76.94 L366.76 76.95 L366.89 76.96 L367.03 76.98 L367.17 76.99 L367.30 77.01 L367.44 77.02 L367.58 77.04 L367.71 77.05 L367.85 77.06 L367.99 77.08 L368.13 77.09 L368.26 77.11 L368.40 77.12 L368.54 77.13 L368.67 77.15 L368.81 77.16 L368.95 77.17 L369.08 77.19 L369.22 77.20 L369.36 77.22 L369.49 77.23 L369.63 77.24 L369.77 77.26 L369.91 77.27 L370.04 77.28 L370.18 77.30 L370.32 77.31 L370.45 77.32 L370.59 77.34 L370.73 77.35 L370.86 77.36 L371.00 77.38 L371.14 77.39 L371.27 77.40 L371.41 77.42 L371.55 77.43 L371.68 77.44 L371.82 77.46 L371.96 77.47 L372.10 77.48 L372.23 77.49 L372.37 77.51 L372.51 77.52 L372.64 77.53 L372.78 77.55 L372.92 77.56 L373.05 77.57 L373.19 77.59 L373.33 77.60 L373.46 77.61 L373.60 77.62 L373.74 77.64 L373.88 77.65 L374.01 77.66 L374.15 77.67 L374.29 77.69 L374.42 77.70 L374.56 77.71 L374.70 77.72 L374.83 77.74 L374.97 77.75 L375.11 77.76 L375.24 77.77 L375.38 77.79 L375.52 77.80 L375.65 77.81 L375.79 77.82 L375.93 77.84 L376.07 77.85 L376.20 77.86 L376.34 77.87 L376.48 77.88 L376.61 77.90 L376.75 77.91 L376.89 77.92 L377.02 77.93 L377.16 77.95 L377.30 77.96 L377.43 77.97 L377.57 77.98 L377.71 77.99 L377.85 78.00 L377.98 78.02 L378.12 78.03 L378.26 78.04 L378.39 78.05 L378.53 78.06 L378.67 78.08" stroke="#ff0000" stroke-width="1.7" stroke-dasharray="6.2 2.44" stroke-dashoffset="4.94"/>
</g>
<rect x="51.53" y="0.30" width="327.00" height="234.80" fill="none" stroke="#333" stroke-width="0.95"/>
<line x1="51.53" y1="0.3" x2="378.53" y2="0.3" stroke="#111" stroke-width="1"/>
<path d="M51.53 235.10 v-4.30 M51.53 0.30 v4.30 M65.16 235.10 v-2.60 M65.16 0.30 v2.60 M78.78 235.10 v-2.60 M78.78 0.30 v2.60 M92.41 235.10 v-2.60 M92.41 0.30 v2.60 M106.03 235.10 v-4.30 M106.03 0.30 v4.30 M119.66 235.10 v-2.60 M119.66 0.30 v2.60 M133.28 235.10 v-2.60 M133.28 0.30 v2.60 M146.91 235.10 v-2.60 M146.91 0.30 v2.60 M160.53 235.10 v-4.30 M160.53 0.30 v4.30 M174.16 235.10 v-2.60 M174.16 0.30 v2.60 M187.78 235.10 v-2.60 M187.78 0.30 v2.60 M201.41 235.10 v-2.60 M201.41 0.30 v2.60 M215.03 235.10 v-4.30 M215.03 0.30 v4.30 M228.66 235.10 v-2.60 M228.66 0.30 v2.60 M242.28 235.10 v-2.60 M242.28 0.30 v2.60 M255.91 235.10 v-2.60 M255.91 0.30 v2.60 M269.53 235.10 v-4.30 M269.53 0.30 v4.30 M283.15 235.10 v-2.60 M283.15 0.30 v2.60 M296.78 235.10 v-2.60 M296.78 0.30 v2.60 M310.40 235.10 v-2.60 M310.40 0.30 v2.60 M324.03 235.10 v-4.30 M324.03 0.30 v4.30 M337.65 235.10 v-2.60 M337.65 0.30 v2.60 M351.28 235.10 v-2.60 M351.28 0.30 v2.60 M364.90 235.10 v-2.60 M364.90 0.30 v2.60 M378.53 235.10 v-4.30 M378.53 0.30 v4.30 M51.53 235.10 h4.30 M378.53 235.10 h-4.30 M51.53 225.20 h2.60 M378.53 225.20 h-2.60 M51.53 215.29 h2.60 M378.53 215.29 h-2.60 M51.53 205.39 h2.60 M378.53 205.39 h-2.60 M51.53 195.48 h2.60 M378.53 195.48 h-2.60 M51.53 185.57 h4.30 M378.53 185.57 h-4.30 M51.53 175.67 h2.60 M378.53 175.67 h-2.60 M51.53 165.77 h2.60 M378.53 165.77 h-2.60 M51.53 155.86 h2.60 M378.53 155.86 h-2.60 M51.53 145.96 h2.60 M378.53 145.96 h-2.60 M51.53 136.05 h4.30 M378.53 136.05 h-4.30 M51.53 126.15 h2.60 M378.53 126.15 h-2.60 M51.53 116.24 h2.60 M378.53 116.24 h-2.60 M51.53 106.34 h2.60 M378.53 106.34 h-2.60 M51.53 96.43 h2.60 M378.53 96.43 h-2.60 M51.53 86.53 h4.30 M378.53 86.53 h-4.30 M51.53 76.62 h2.60 M378.53 76.62 h-2.60 M51.53 66.72 h2.60 M378.53 66.72 h-2.60 M51.53 56.81 h2.60 M378.53 56.81 h-2.60 M51.53 46.91 h2.60 M378.53 46.91 h-2.60 M51.53 37.00 h4.30 M378.53 37.00 h-4.30 M51.53 27.09 h2.60 M378.53 27.09 h-2.60 M51.53 17.19 h2.60 M378.53 17.19 h-2.60 M51.53 7.28 h2.60 M378.53 7.28 h-2.60" stroke="#222" stroke-width="0.8" fill="none"/>
<path d="M44.33 246.35 h7.3 M98.83 246.35 h7.3 M153.33 246.35 h7.3 M22.15 136.75 h7.3 M22.15 186.65 h7.3 M22.15 236.10 h7.3" stroke="#111" stroke-width="0.95" fill="none"/>
<g font-size="13.1px" fill="#1a1a1a">
<text x="52.73" y="250.20" textLength="7.0" lengthAdjust="spacingAndGlyphs">6</text>
<text x="107.23" y="250.20" textLength="7.0" lengthAdjust="spacingAndGlyphs">4</text>
<text x="161.73" y="250.20" textLength="7.0" lengthAdjust="spacingAndGlyphs">2</text>
<text x="211.83" y="250.20" textLength="7.0" lengthAdjust="spacingAndGlyphs">0</text>
<text x="266.33" y="250.20" textLength="7.0" lengthAdjust="spacingAndGlyphs">2</text>
<text x="320.83" y="250.20" textLength="7.0" lengthAdjust="spacingAndGlyphs">4</text>
<text x="375.33" y="250.20" textLength="7.0" lengthAdjust="spacingAndGlyphs">6</text>
<text x="30.45" y="41.75" textLength="17.5" lengthAdjust="spacingAndGlyphs">0.5</text>
<text x="30.45" y="91.00" textLength="17.5" lengthAdjust="spacingAndGlyphs">0.0</text>
<text x="30.45" y="140.20" textLength="17.5" lengthAdjust="spacingAndGlyphs">0.5</text>
<text x="30.45" y="190.10" textLength="17.5" lengthAdjust="spacingAndGlyphs">1.0</text>
<text x="30.45" y="239.55" textLength="17.5" lengthAdjust="spacingAndGlyphs">1.5</text>
</g>
<g fill="#111"><text transform="translate(213.65,271.80) scale(1.0290,1)" font-size="12.80px" font-style="italic">z</text></g>
<g transform="translate(10.3,127) rotate(-90)" fill="#111"><text transform="translate(-0.77,0.00) scale(0.7012,1)" font-size="15.00px" font-style="italic">U</text><text transform="translate(8.26,0.00) scale(0.7787,1)" font-size="13.00px">(</text><text transform="translate(13.43,0.00) scale(0.8878,1)" font-size="12.80px" font-style="italic">z</text><text transform="translate(19.01,0.00) scale(0.6889,1)" font-size="13.00px">)</text></g>
<g font-size="12px" font-weight="bold" fill="#800080">
<text x="202.2" y="20.8" font-style="italic" textLength="10.3" lengthAdjust="spacingAndGlyphs">A</text>
<text x="212.3" y="21.4" textLength="9.6" lengthAdjust="spacingAndGlyphs">=</text>
<text x="222.2" y="20.8" textLength="7.4" lengthAdjust="spacingAndGlyphs">0</text>
</g>
<line x1="268" y1="152.3" x2="310.8" y2="152.3" stroke="#0000ff" stroke-width="1.7"/>
<line x1="268" y1="175" x2="310.8" y2="175" stroke="#ff0000" stroke-width="1.7" stroke-dasharray="6.2 2.38"/>
<g fill="#161616"><text transform="translate(319.47,156.00) scale(0.9583,1)" font-size="13.60px" font-style="italic">k</text><text transform="translate(325.47,157.60) scale(1.2796,1)" font-size="13.10px" stroke="#161616" stroke-width="0.35">=</text><text transform="translate(335.98,156.00) scale(1.0625,1)" font-size="13.10px">1</text><text transform="translate(344.22,156.00) scale(0.9044,1)" font-size="13.10px">.</text><text transform="translate(347.00,156.00) scale(1.0987,1)" font-size="13.10px">0</text>
<text transform="translate(319.47,179.00) scale(0.9583,1)" font-size="13.60px" font-style="italic">k</text><text transform="translate(325.47,180.60) scale(1.2796,1)" font-size="13.10px" stroke="#161616" stroke-width="0.35">=</text><text transform="translate(335.50,179.00) scale(1.0987,1)" font-size="13.10px">0</text><text transform="translate(344.22,179.00) scale(0.9044,1)" font-size="13.10px">.</text><text transform="translate(347.00,179.00) scale(1.0987,1)" font-size="13.10px">8</text></g>
</svg>
</body></html>
